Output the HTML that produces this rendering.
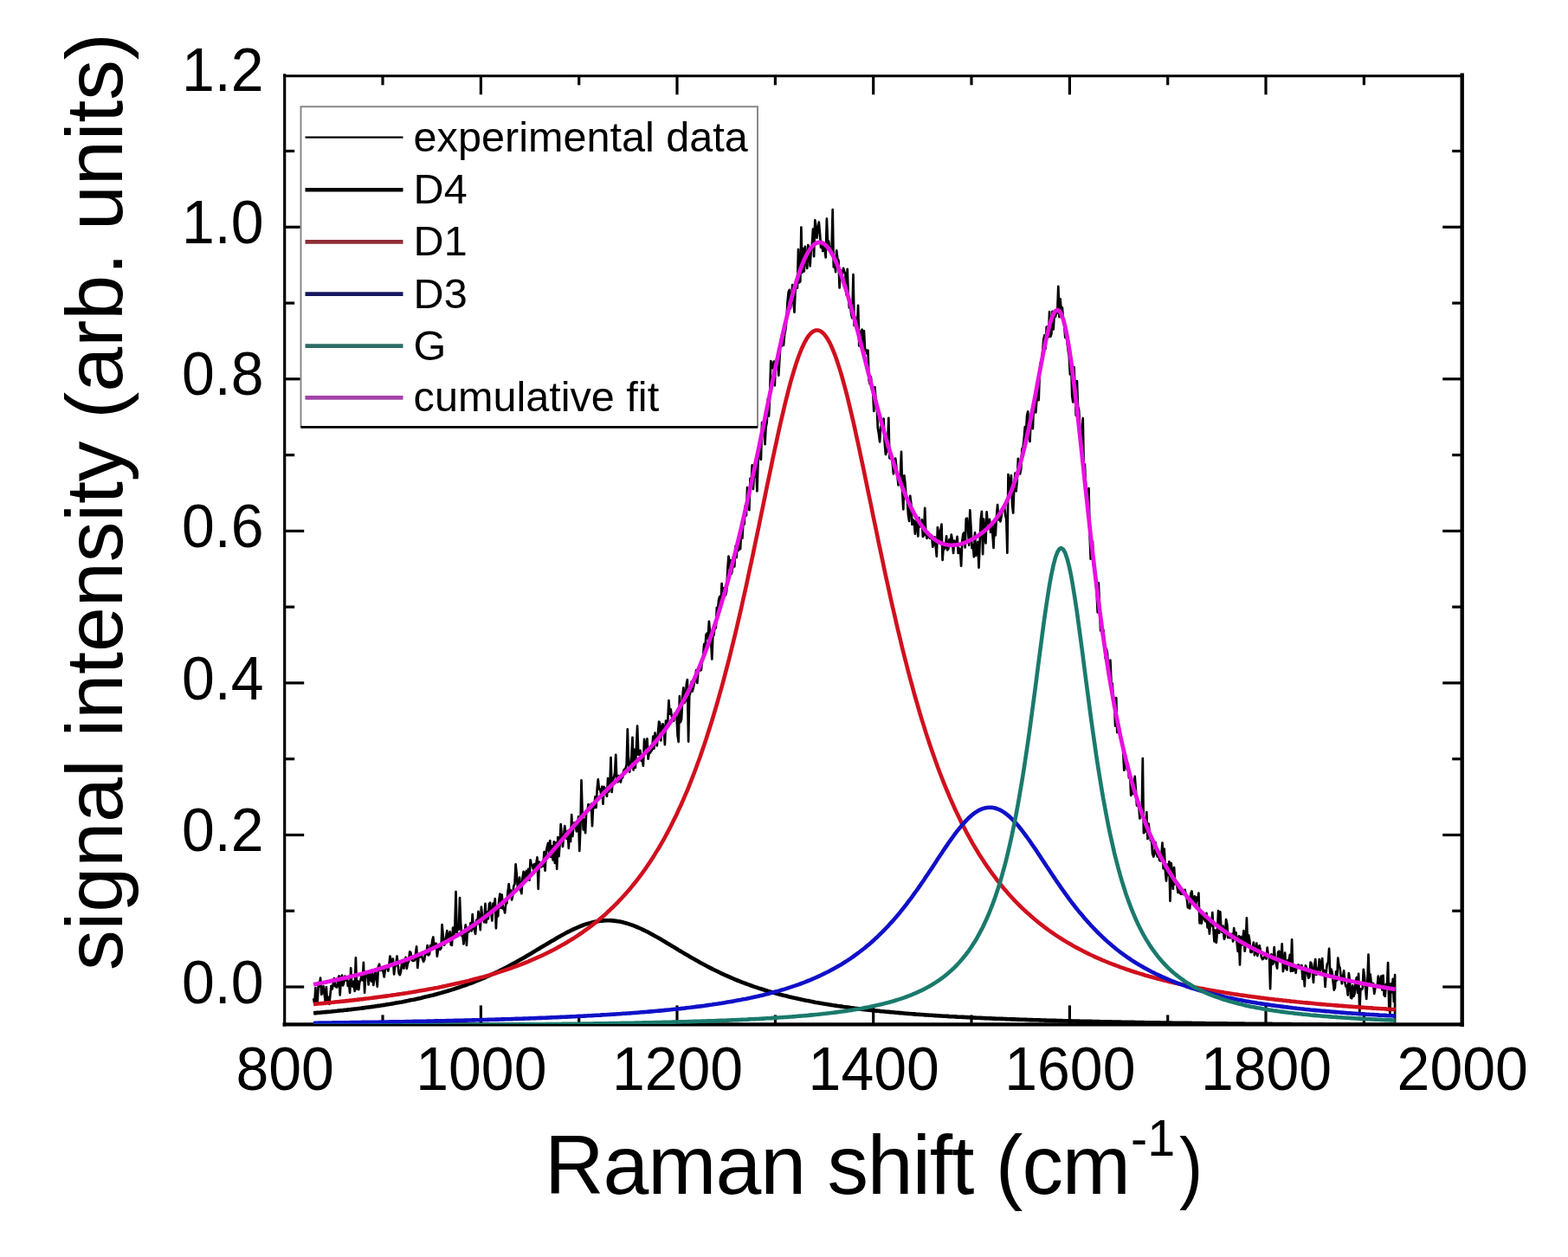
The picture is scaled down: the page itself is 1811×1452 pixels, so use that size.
<!DOCTYPE html>
<html><head><meta charset="utf-8"><title>Raman spectrum fit</title>
<style>html,body{margin:0;padding:0;background:#fff;}svg{display:block;}text{font-family:"Liberation Sans",Arial,sans-serif;fill:#000;}</style>
</head><body>
<svg width="1811" height="1452" viewBox="0 0 1811 1452">
<rect x="0" y="0" width="1811" height="1452" fill="#fff"/>
<defs><clipPath id="pc"><rect x="328.7" y="85.8" width="1360.0" height="1097.2"/></clipPath></defs>
<g stroke="#000" fill="none" stroke-linecap="square">
<line x1="328.7" y1="87.8" x2="1688.7" y2="87.8" stroke-width="3"/>
<line x1="328.7" y1="1183.4" x2="1688.7" y2="1183.4" stroke-width="4.4"/>
<line x1="328.7" y1="86.8" x2="328.7" y2="1183.9" stroke-width="3.2"/>
<line x1="1688.7" y1="86.8" x2="1688.7" y2="1183.9" stroke-width="4.4"/>
</g>
<g stroke="#000" stroke-width="3.2" fill="none">
<line x1="442.0" y1="1183.9" x2="442.0" y2="1172.4"/>
<line x1="442.0" y1="86.8" x2="442.0" y2="98.3"/>
<line x1="555.4" y1="1183.9" x2="555.4" y2="1161.4"/>
<line x1="555.4" y1="86.8" x2="555.4" y2="109.3"/>
<line x1="668.7" y1="1183.9" x2="668.7" y2="1172.4"/>
<line x1="668.7" y1="86.8" x2="668.7" y2="98.3"/>
<line x1="782.0" y1="1183.9" x2="782.0" y2="1161.4"/>
<line x1="782.0" y1="86.8" x2="782.0" y2="109.3"/>
<line x1="895.4" y1="1183.9" x2="895.4" y2="1172.4"/>
<line x1="895.4" y1="86.8" x2="895.4" y2="98.3"/>
<line x1="1008.7" y1="1183.9" x2="1008.7" y2="1161.4"/>
<line x1="1008.7" y1="86.8" x2="1008.7" y2="109.3"/>
<line x1="1122.0" y1="1183.9" x2="1122.0" y2="1172.4"/>
<line x1="1122.0" y1="86.8" x2="1122.0" y2="98.3"/>
<line x1="1235.4" y1="1183.9" x2="1235.4" y2="1161.4"/>
<line x1="1235.4" y1="86.8" x2="1235.4" y2="109.3"/>
<line x1="1348.7" y1="1183.9" x2="1348.7" y2="1172.4"/>
<line x1="1348.7" y1="86.8" x2="1348.7" y2="98.3"/>
<line x1="1462.0" y1="1183.9" x2="1462.0" y2="1161.4"/>
<line x1="1462.0" y1="86.8" x2="1462.0" y2="109.3"/>
<line x1="1575.4" y1="1183.9" x2="1575.4" y2="1172.4"/>
<line x1="1575.4" y1="86.8" x2="1575.4" y2="98.3"/>
<line x1="328.7" y1="1140.0" x2="351.2" y2="1140.0"/>
<line x1="1688.7" y1="1140.0" x2="1666.2" y2="1140.0"/>
<line x1="328.7" y1="1052.2" x2="340.2" y2="1052.2"/>
<line x1="1688.7" y1="1052.2" x2="1677.2" y2="1052.2"/>
<line x1="328.7" y1="964.5" x2="351.2" y2="964.5"/>
<line x1="1688.7" y1="964.5" x2="1666.2" y2="964.5"/>
<line x1="328.7" y1="876.7" x2="340.2" y2="876.7"/>
<line x1="1688.7" y1="876.7" x2="1677.2" y2="876.7"/>
<line x1="328.7" y1="788.9" x2="351.2" y2="788.9"/>
<line x1="1688.7" y1="788.9" x2="1666.2" y2="788.9"/>
<line x1="328.7" y1="701.1" x2="340.2" y2="701.1"/>
<line x1="1688.7" y1="701.1" x2="1677.2" y2="701.1"/>
<line x1="328.7" y1="613.4" x2="351.2" y2="613.4"/>
<line x1="1688.7" y1="613.4" x2="1666.2" y2="613.4"/>
<line x1="328.7" y1="525.6" x2="340.2" y2="525.6"/>
<line x1="1688.7" y1="525.6" x2="1677.2" y2="525.6"/>
<line x1="328.7" y1="437.8" x2="351.2" y2="437.8"/>
<line x1="1688.7" y1="437.8" x2="1666.2" y2="437.8"/>
<line x1="328.7" y1="350.1" x2="340.2" y2="350.1"/>
<line x1="1688.7" y1="350.1" x2="1677.2" y2="350.1"/>
<line x1="328.7" y1="262.3" x2="351.2" y2="262.3"/>
<line x1="1688.7" y1="262.3" x2="1666.2" y2="262.3"/>
<line x1="328.7" y1="174.5" x2="340.2" y2="174.5"/>
<line x1="1688.7" y1="174.5" x2="1677.2" y2="174.5"/>
</g>
<g clip-path="url(#pc)" fill="none" stroke-linejoin="round" stroke-linecap="butt">
<path d="M362.1,1153.3 L363.3,1159.5 L364.4,1141.2 L365.5,1157.4 L366.7,1158.0 L367.8,1135.2 L368.9,1139.3 L370.1,1129.6 L371.2,1148.6 L372.3,1147.1 L373.5,1139.1 L374.6,1147.5 L375.7,1156.7 L376.9,1140.1 L378.0,1158.7 L379.1,1151.8 L380.3,1159.9 L381.4,1149.7 L382.5,1138.8 L383.7,1142.5 L384.8,1137.1 L385.9,1130.1 L387.1,1139.0 L388.2,1140.1 L389.3,1140.4 L390.5,1130.3 L391.6,1127.5 L392.7,1149.4 L393.9,1129.8 L395.0,1126.6 L396.1,1138.3 L397.3,1134.9 L398.4,1127.7 L399.5,1132.3 L400.7,1128.9 L401.8,1138.8 L402.9,1133.8 L404.1,1146.8 L405.2,1118.4 L406.3,1138.4 L407.5,1139.8 L408.6,1133.7 L409.7,1144.8 L410.9,1106.3 L412.0,1142.5 L413.1,1133.3 L414.3,1143.2 L415.4,1133.9 L416.5,1132.3 L417.7,1125.8 L418.8,1132.3 L419.9,1111.9 L421.1,1146.7 L422.2,1125.7 L423.3,1126.7 L424.5,1124.6 L425.6,1137.4 L426.7,1122.9 L427.9,1129.4 L429.0,1133.6 L430.1,1124.2 L431.3,1138.0 L432.4,1128.4 L433.5,1123.0 L434.7,1130.9 L435.8,1139.6 L436.9,1117.0 L438.1,1113.7 L439.2,1121.1 L440.3,1119.2 L441.5,1119.7 L442.6,1122.6 L443.7,1128.5 L444.9,1119.7 L446.0,1117.0 L447.1,1115.6 L448.3,1121.6 L449.4,1114.8 L450.5,1104.5 L451.7,1109.6 L452.8,1112.8 L453.9,1107.5 L455.1,1125.5 L456.2,1116.0 L457.3,1115.4 L458.5,1104.6 L459.6,1114.0 L460.7,1124.4 L461.9,1126.2 L463.0,1122.4 L464.1,1111.6 L465.3,1117.5 L466.4,1118.5 L467.5,1109.3 L468.7,1105.9 L469.8,1118.8 L470.9,1113.0 L472.1,1110.5 L473.2,1099.4 L474.3,1099.9 L475.5,1108.7 L476.6,1109.6 L477.7,1109.9 L478.9,1109.3 L480.0,1102.1 L481.1,1093.4 L482.3,1118.0 L483.4,1106.2 L484.5,1104.8 L485.7,1105.4 L486.8,1103.5 L487.9,1107.3 L489.1,1110.9 L490.2,1108.6 L491.3,1099.1 L492.5,1102.3 L493.6,1092.2 L494.7,1103.3 L495.9,1102.5 L497.0,1092.3 L498.1,1096.7 L499.3,1086.2 L500.4,1082.5 L501.5,1095.0 L502.7,1090.1 L503.8,1089.8 L504.9,1104.7 L506.1,1095.6 L507.2,1091.7 L508.3,1097.0 L509.5,1095.3 L510.6,1068.2 L511.7,1080.7 L512.9,1091.7 L514.0,1090.0 L515.1,1082.8 L516.3,1075.1 L517.4,1085.2 L518.5,1084.0 L519.7,1076.3 L520.8,1091.3 L521.9,1091.9 L523.1,1071.5 L524.2,1081.9 L525.3,1073.5 L526.5,1030.0 L527.6,1077.1 L528.7,1072.1 L529.9,1073.6 L531.0,1037.0 L532.1,1065.5 L533.3,1080.8 L534.4,1080.9 L535.5,1090.5 L536.7,1076.6 L537.8,1068.3 L538.9,1091.9 L540.1,1071.7 L541.2,1076.6 L542.3,1074.4 L543.5,1066.3 L544.6,1075.3 L545.7,1056.1 L546.9,1072.7 L548.0,1074.2 L549.1,1079.0 L550.3,1062.9 L551.4,1067.5 L552.5,1052.9 L553.7,1062.5 L554.8,1074.2 L555.9,1047.5 L557.1,1059.6 L558.2,1061.4 L559.3,1065.3 L560.5,1043.8 L561.6,1065.6 L562.7,1053.6 L563.9,1061.4 L565.0,1044.2 L566.1,1042.8 L567.3,1054.4 L568.4,1063.5 L569.5,1043.7 L570.7,1046.3 L571.8,1038.1 L572.9,1072.3 L574.1,1047.6 L575.2,1058.3 L576.3,1040.2 L577.5,1032.5 L578.6,1048.9 L579.7,1033.7 L580.9,1049.7 L582.0,1049.1 L583.1,1054.5 L584.3,1043.2 L585.4,1043.3 L586.5,1030.4 L587.7,1021.2 L588.8,1033.6 L589.9,1028.3 L591.1,1039.4 L592.2,1034.3 L593.3,1023.7 L594.5,1020.9 L595.6,998.3 L596.7,1009.2 L597.9,1024.9 L599.0,1027.1 L600.1,1013.7 L601.3,1027.8 L602.4,1032.2 L603.5,1014.2 L604.7,1006.8 L605.8,1014.8 L606.9,1008.9 L608.1,1005.9 L609.2,1014.9 L610.3,1003.8 L611.5,1016.7 L612.6,993.3 L613.7,998.5 L614.9,999.7 L616.0,1004.0 L617.1,998.0 L618.3,1003.8 L619.4,997.4 L620.5,990.3 L621.7,1027.0 L622.8,995.5 L623.9,1001.3 L625.1,1001.5 L626.2,998.6 L627.3,1000.7 L628.5,984.2 L629.6,1005.6 L630.7,984.2 L631.9,978.3 L633.0,973.8 L634.1,985.9 L635.3,971.1 L636.4,990.0 L637.5,977.4 L638.7,993.5 L639.8,972.3 L640.9,997.0 L642.1,973.4 L643.2,1003.8 L644.3,967.1 L645.5,989.2 L646.6,974.8 L647.7,952.1 L648.9,967.6 L650.0,978.0 L651.1,964.9 L652.3,954.0 L653.4,966.0 L654.5,968.8 L655.7,959.8 L656.8,979.8 L657.9,958.8 L659.1,972.0 L660.2,941.1 L661.3,966.0 L662.5,954.5 L663.6,950.2 L664.7,952.3 L665.9,960.3 L667.0,958.4 L668.1,943.3 L669.3,982.9 L670.4,955.7 L671.5,901.3 L672.7,941.7 L673.8,958.5 L674.9,946.6 L676.1,962.2 L677.2,936.5 L678.3,937.8 L679.5,929.1 L680.6,930.7 L681.7,935.7 L682.9,928.7 L684.0,954.2 L685.1,930.4 L686.3,933.2 L687.4,920.3 L688.5,932.8 L689.7,911.1 L690.8,900.4 L691.9,911.4 L693.1,911.8 L694.2,917.3 L695.3,908.7 L696.5,928.6 L697.6,908.9 L698.7,910.6 L699.9,916.0 L701.0,919.8 L702.1,899.1 L703.3,914.4 L704.4,908.5 L705.5,875.0 L706.7,915.0 L707.8,898.5 L708.9,899.0 L710.1,892.7 L711.2,871.9 L712.3,901.3 L713.5,903.4 L714.6,896.2 L715.7,900.0 L716.9,903.5 L718.0,897.1 L719.1,898.3 L720.3,890.2 L721.4,888.4 L722.5,888.0 L723.7,882.9 L724.8,842.3 L725.9,880.2 L727.1,891.7 L728.2,883.8 L729.3,873.7 L730.5,851.8 L731.6,889.4 L732.7,865.8 L733.9,886.6 L735.0,863.1 L736.1,838.6 L737.3,871.9 L738.4,871.8 L739.5,866.9 L740.7,878.8 L741.8,876.7 L742.9,884.6 L744.1,853.8 L745.2,861.0 L746.3,864.6 L747.5,853.3 L748.6,876.7 L749.7,869.6 L750.9,869.7 L752.0,867.6 L753.1,866.3 L754.3,850.5 L755.4,864.7 L756.5,846.6 L757.7,854.9 L758.8,861.5 L759.9,847.2 L761.1,833.7 L762.2,835.4 L763.3,855.5 L764.5,840.3 L765.6,836.3 L766.7,842.2 L767.9,860.1 L769.0,832.5 L770.1,841.4 L771.3,832.3 L772.4,809.2 L773.5,824.7 L774.7,819.3 L775.8,827.6 L776.9,829.0 L778.1,832.8 L779.2,824.2 L780.3,824.9 L781.5,826.9 L782.6,849.3 L783.7,856.8 L784.9,804.2 L786.0,834.1 L787.1,830.6 L788.3,804.7 L789.4,794.4 L790.5,811.9 L791.7,809.2 L792.8,790.5 L793.9,785.1 L795.1,856.6 L796.2,803.6 L797.3,800.1 L798.5,787.7 L799.6,798.5 L800.7,794.7 L801.9,788.7 L803.0,785.7 L804.1,774.0 L805.3,788.9 L806.4,775.8 L807.5,773.5 L808.7,774.4 L809.8,774.0 L810.9,764.0 L812.1,758.1 L813.2,744.1 L814.3,750.5 L815.5,733.2 L816.6,731.6 L817.7,737.6 L818.9,717.9 L820.0,730.1 L821.1,738.6 L822.3,761.4 L823.4,733.0 L824.5,733.5 L825.7,721.4 L826.8,725.5 L827.9,701.8 L829.1,703.4 L830.2,692.1 L831.3,689.1 L832.5,698.6 L833.6,674.0 L834.7,693.8 L835.9,679.3 L837.0,686.3 L838.1,687.3 L839.3,682.2 L840.4,656.9 L841.5,642.6 L842.7,656.0 L843.8,647.0 L844.9,662.7 L846.1,656.5 L847.2,642.4 L848.3,654.4 L849.5,630.9 L850.6,643.9 L851.7,629.4 L852.9,635.8 L854.0,627.2 L855.1,634.1 L856.3,608.0 L857.4,621.7 L858.5,601.4 L859.7,605.5 L860.8,584.0 L861.9,595.5 L863.1,563.0 L864.2,581.5 L865.3,589.1 L866.5,552.9 L867.6,559.2 L868.7,537.4 L869.9,565.0 L871.0,545.9 L872.1,550.7 L873.3,539.5 L874.4,567.3 L875.5,534.7 L876.7,519.1 L877.8,524.6 L878.9,530.8 L880.1,488.0 L881.2,496.0 L882.3,497.4 L883.5,513.2 L884.6,493.5 L885.7,488.3 L886.9,460.6 L888.0,480.6 L889.1,458.2 L890.3,417.1 L891.4,423.6 L892.5,425.1 L893.7,417.6 L894.8,445.3 L895.9,416.7 L897.1,419.0 L898.2,411.2 L899.3,433.7 L900.5,412.3 L901.6,392.6 L902.7,399.9 L903.9,391.9 L905.0,399.0 L906.1,386.9 L907.3,380.5 L908.4,369.9 L909.5,349.3 L910.7,337.4 L911.8,334.8 L912.9,356.2 L914.1,348.8 L915.2,329.0 L916.3,347.0 L917.5,360.6 L918.6,335.4 L919.7,326.7 L920.9,332.6 L922.0,288.2 L923.1,326.4 L924.3,325.2 L925.4,262.6 L926.5,314.9 L927.7,287.2 L928.8,313.5 L929.9,284.9 L931.1,298.5 L932.2,309.9 L933.3,283.0 L934.5,287.0 L935.6,307.3 L936.7,290.0 L937.9,282.0 L939.0,264.5 L940.1,296.2 L941.3,254.3 L942.4,261.0 L943.5,274.8 L944.7,264.8 L945.8,256.6 L946.9,268.5 L948.1,285.8 L949.2,279.2 L950.3,290.0 L951.5,282.0 L952.6,288.5 L953.7,297.3 L954.9,252.7 L956.0,281.1 L957.1,278.6 L958.3,288.1 L959.4,291.8 L960.5,291.9 L961.7,242.2 L962.8,308.5 L963.9,301.4 L965.1,314.2 L966.2,289.4 L967.3,298.7 L968.5,300.8 L969.6,332.4 L970.7,312.1 L971.9,319.4 L973.0,316.3 L974.1,309.8 L975.3,314.2 L976.4,316.0 L977.5,340.4 L978.7,310.9 L979.8,342.5 L980.9,355.3 L982.1,352.9 L983.2,362.9 L984.3,367.3 L985.5,317.2 L986.6,375.9 L987.7,366.7 L988.9,374.2 L990.0,379.6 L991.1,352.9 L992.3,399.5 L993.4,388.7 L994.5,382.9 L995.7,380.7 L996.8,402.2 L997.9,382.0 L999.1,404.1 L1000.2,404.0 L1001.3,408.5 L1002.5,404.7 L1003.6,439.2 L1004.7,443.6 L1005.9,435.3 L1007.0,450.0 L1008.1,450.8 L1009.3,475.0 L1010.4,447.1 L1011.5,461.1 L1012.7,467.3 L1013.8,494.2 L1014.9,500.5 L1016.1,510.4 L1017.2,492.5 L1018.3,493.6 L1019.5,492.9 L1020.6,483.7 L1021.7,511.2 L1022.9,525.0 L1024.0,521.7 L1025.1,515.9 L1026.3,482.9 L1027.4,529.2 L1028.5,529.6 L1029.7,526.8 L1030.8,534.8 L1031.9,547.3 L1033.1,535.6 L1034.2,529.5 L1035.3,539.9 L1036.5,550.2 L1037.6,560.3 L1038.7,554.9 L1039.9,551.5 L1041.0,521.8 L1042.1,566.5 L1043.3,588.3 L1044.4,549.3 L1045.5,559.0 L1046.7,575.9 L1047.8,575.7 L1048.9,594.0 L1050.1,602.0 L1051.2,572.9 L1052.3,581.5 L1053.5,606.0 L1054.6,600.4 L1055.7,601.5 L1056.9,616.7 L1058.0,604.0 L1059.1,599.6 L1060.3,619.5 L1061.4,598.2 L1062.5,608.5 L1063.7,606.2 L1064.8,600.4 L1065.9,619.8 L1067.1,618.3 L1068.2,586.8 L1069.3,615.6 L1070.5,621.8 L1071.6,614.8 L1072.7,619.1 L1073.9,621.8 L1075.0,619.0 L1076.1,618.7 L1077.3,631.7 L1078.4,627.8 L1079.5,620.3 L1080.7,630.7 L1081.8,642.6 L1082.9,609.2 L1084.1,616.4 L1085.2,625.7 L1086.3,613.3 L1087.5,605.6 L1088.6,646.9 L1089.7,630.3 L1090.9,634.1 L1092.0,631.6 L1093.1,619.4 L1094.3,635.3 L1095.4,633.7 L1096.5,623.0 L1097.7,629.3 L1098.8,617.5 L1099.9,624.5 L1101.1,639.0 L1102.2,624.5 L1103.3,628.6 L1104.5,628.8 L1105.6,619.9 L1106.7,639.0 L1107.9,633.5 L1109.0,635.4 L1110.1,653.6 L1111.3,625.1 L1112.4,616.9 L1113.5,615.4 L1114.7,632.3 L1115.8,599.2 L1116.9,598.7 L1118.1,613.0 L1119.2,629.6 L1120.3,589.4 L1121.5,610.0 L1122.6,633.1 L1123.7,629.4 L1124.9,643.1 L1126.0,615.3 L1127.1,641.8 L1128.3,630.0 L1129.4,626.0 L1130.5,655.6 L1131.7,625.2 L1132.8,599.6 L1133.9,590.9 L1135.1,640.2 L1136.2,599.5 L1137.3,614.6 L1138.5,627.4 L1139.6,591.3 L1140.7,605.1 L1141.9,604.4 L1143.0,599.8 L1144.1,614.9 L1145.3,604.9 L1146.4,617.0 L1147.5,633.0 L1148.7,603.8 L1149.8,618.3 L1150.9,598.0 L1152.1,583.1 L1153.2,600.5 L1154.3,593.5 L1155.5,602.3 L1156.6,595.9 L1157.7,587.9 L1158.9,585.6 L1160.0,584.7 L1161.1,594.5 L1162.3,600.0 L1163.4,638.6 L1164.5,548.1 L1165.7,557.7 L1166.8,569.8 L1167.9,549.1 L1169.1,583.1 L1170.2,592.5 L1171.3,562.2 L1172.5,546.5 L1173.6,567.3 L1174.7,556.2 L1175.9,529.8 L1177.0,546.2 L1178.1,547.4 L1179.3,541.5 L1180.4,518.5 L1181.5,517.0 L1182.7,507.0 L1183.8,493.0 L1184.9,503.0 L1186.1,480.1 L1187.2,475.3 L1188.3,499.8 L1189.5,510.0 L1190.6,485.2 L1191.7,479.3 L1192.9,495.2 L1194.0,465.9 L1195.1,462.5 L1196.3,476.3 L1197.4,461.9 L1198.5,447.3 L1199.7,462.1 L1200.8,430.2 L1201.9,418.7 L1203.1,416.7 L1204.2,406.0 L1205.3,392.0 L1206.5,387.2 L1207.6,402.7 L1208.7,377.9 L1209.9,377.2 L1211.0,389.1 L1212.1,360.2 L1213.3,388.7 L1214.4,385.7 L1215.5,359.9 L1216.7,380.4 L1217.8,361.6 L1218.9,365.9 L1220.1,361.7 L1221.2,361.5 L1222.3,330.8 L1223.5,366.2 L1224.6,345.3 L1225.7,358.6 L1226.9,355.2 L1228.0,369.5 L1229.1,375.0 L1230.3,389.8 L1231.4,385.3 L1232.5,394.9 L1233.7,405.0 L1234.8,411.6 L1235.9,432.5 L1237.1,414.3 L1238.2,457.0 L1239.3,464.5 L1240.5,424.1 L1241.6,447.2 L1242.7,479.8 L1243.9,440.0 L1245.0,469.3 L1246.1,473.7 L1247.3,492.0 L1248.4,506.4 L1249.5,515.3 L1250.7,483.0 L1251.8,540.9 L1252.9,536.2 L1254.1,562.0 L1255.2,568.9 L1256.3,592.7 L1257.5,564.1 L1258.6,617.6 L1259.7,645.7 L1260.9,632.5 L1262.0,625.5 L1263.1,653.9 L1264.3,659.1 L1265.4,661.8 L1266.5,681.5 L1267.7,707.3 L1268.8,673.4 L1269.9,696.2 L1271.1,728.5 L1272.2,718.5 L1273.3,734.8 L1274.5,727.8 L1275.6,745.1 L1276.7,760.5 L1277.9,749.6 L1279.0,754.6 L1280.1,779.5 L1281.3,768.4 L1282.4,762.7 L1283.5,787.8 L1284.7,789.8 L1285.8,805.1 L1286.9,807.0 L1288.1,838.7 L1289.2,806.2 L1290.3,846.0 L1291.5,835.5 L1292.6,839.6 L1293.7,851.1 L1294.9,856.2 L1296.0,859.7 L1297.1,866.3 L1298.3,889.6 L1299.4,877.8 L1300.5,873.6 L1301.7,888.8 L1302.8,882.3 L1303.9,898.4 L1305.1,893.5 L1306.2,918.9 L1307.3,901.0 L1308.5,916.9 L1309.6,909.6 L1310.7,896.8 L1311.9,912.8 L1313.0,930.4 L1314.1,931.2 L1315.3,931.2 L1316.4,945.4 L1317.5,930.8 L1318.7,942.0 L1319.8,876.0 L1320.9,962.2 L1322.1,961.1 L1323.2,959.6 L1324.3,938.1 L1325.5,969.0 L1326.6,951.5 L1327.7,961.0 L1328.9,970.9 L1330.0,969.2 L1331.1,986.3 L1332.3,989.5 L1333.4,986.0 L1334.5,973.0 L1335.7,984.5 L1336.8,989.5 L1337.9,986.1 L1339.1,993.4 L1340.2,994.4 L1341.3,989.4 L1342.5,973.6 L1343.6,1003.1 L1344.7,980.5 L1345.9,1006.1 L1347.0,1017.5 L1348.1,998.5 L1349.3,1010.9 L1350.4,995.4 L1351.5,1040.8 L1352.7,997.0 L1353.8,1007.4 L1354.9,1026.6 L1356.1,1002.0 L1357.2,1021.1 L1358.3,1018.7 L1359.5,1023.8 L1360.6,1031.1 L1361.7,1023.7 L1362.9,1031.6 L1364.0,1032.7 L1365.1,1028.4 L1366.3,1032.9 L1367.4,1031.6 L1368.5,1027.8 L1369.7,1033.3 L1370.8,1038.1 L1371.9,1048.3 L1373.1,1048.6 L1374.2,1049.3 L1375.3,1032.5 L1376.5,1029.5 L1377.6,1039.7 L1378.7,1042.4 L1379.9,1035.4 L1381.0,1046.2 L1382.1,1036.7 L1383.3,1040.0 L1384.4,1031.7 L1385.5,1066.3 L1386.7,1052.9 L1387.8,1066.7 L1388.9,1057.0 L1390.1,1059.9 L1391.2,1062.0 L1392.3,1064.3 L1393.5,1054.9 L1394.6,1071.5 L1395.7,1063.7 L1396.9,1078.6 L1398.0,1066.8 L1399.1,1069.5 L1400.3,1054.1 L1401.4,1073.5 L1402.5,1087.5 L1403.7,1074.6 L1404.8,1088.8 L1405.9,1076.6 L1407.1,1052.0 L1408.2,1077.7 L1409.3,1053.3 L1410.5,1074.3 L1411.6,1076.9 L1412.7,1069.5 L1413.9,1084.7 L1415.0,1081.8 L1416.1,1062.0 L1417.3,1067.9 L1418.4,1083.2 L1419.5,1081.4 L1420.7,1083.3 L1421.8,1081.6 L1422.9,1079.0 L1424.1,1087.4 L1425.2,1072.2 L1426.3,1085.1 L1427.5,1077.2 L1428.6,1089.1 L1429.7,1098.9 L1430.9,1081.4 L1432.0,1114.5 L1433.1,1082.1 L1434.3,1092.0 L1435.4,1084.1 L1436.5,1075.0 L1437.7,1098.7 L1438.8,1091.0 L1439.9,1060.4 L1441.1,1091.9 L1442.2,1080.3 L1443.3,1086.6 L1444.5,1099.8 L1445.6,1100.0 L1446.7,1094.4 L1447.9,1088.6 L1449.0,1103.3 L1450.1,1100.4 L1451.3,1089.6 L1452.4,1104.1 L1453.5,1094.4 L1454.7,1092.2 L1455.8,1098.0 L1456.9,1105.5 L1458.1,1108.1 L1459.2,1107.3 L1460.3,1105.4 L1461.5,1104.1 L1462.6,1107.5 L1463.7,1094.7 L1464.9,1104.9 L1466.0,1104.1 L1467.1,1142.2 L1468.3,1102.3 L1469.4,1114.0 L1470.5,1113.1 L1471.7,1094.1 L1472.8,1109.6 L1473.9,1112.8 L1475.1,1118.6 L1476.2,1099.8 L1477.3,1098.7 L1478.5,1104.9 L1479.6,1110.4 L1480.7,1090.3 L1481.9,1122.1 L1483.0,1116.0 L1484.1,1100.7 L1485.3,1118.6 L1486.4,1120.3 L1487.5,1109.1 L1488.7,1109.8 L1489.8,1102.9 L1490.9,1121.8 L1492.1,1085.4 L1493.2,1121.6 L1494.3,1120.1 L1495.5,1115.5 L1496.6,1123.9 L1497.7,1115.3 L1498.9,1114.6 L1500.0,1114.7 L1501.1,1117.5 L1502.3,1116.0 L1503.4,1115.1 L1504.5,1130.8 L1505.7,1121.2 L1506.8,1139.1 L1507.9,1115.3 L1509.1,1118.4 L1510.2,1125.0 L1511.3,1129.7 L1512.5,1128.1 L1513.6,1111.6 L1514.7,1112.9 L1515.9,1123.3 L1517.0,1134.9 L1518.1,1115.1 L1519.3,1108.2 L1520.4,1125.8 L1521.5,1119.0 L1522.7,1120.1 L1523.8,1108.2 L1524.9,1121.3 L1526.1,1113.7 L1527.2,1107.1 L1528.3,1125.0 L1529.5,1121.0 L1530.6,1140.0 L1531.7,1122.5 L1532.9,1113.4 L1534.0,1111.6 L1535.1,1095.9 L1536.3,1128.1 L1537.4,1119.5 L1538.5,1122.7 L1539.7,1134.6 L1540.8,1143.6 L1541.9,1140.9 L1543.1,1122.4 L1544.2,1132.3 L1545.3,1106.6 L1546.5,1115.5 L1547.6,1118.3 L1548.7,1127.9 L1549.9,1136.2 L1551.0,1129.4 L1552.1,1121.4 L1553.3,1133.9 L1554.4,1139.5 L1555.5,1138.6 L1556.7,1149.4 L1557.8,1124.2 L1558.9,1131.4 L1560.1,1152.5 L1561.2,1153.2 L1562.3,1138.4 L1563.5,1150.8 L1564.6,1147.4 L1565.7,1134.9 L1566.9,1129.0 L1568.0,1146.7 L1569.1,1124.8 L1570.3,1170.2 L1571.4,1142.3 L1572.5,1143.0 L1573.7,1141.7 L1574.8,1119.8 L1575.9,1127.7 L1577.1,1140.7 L1578.2,1153.8 L1579.3,1134.9 L1580.5,1102.7 L1581.6,1134.0 L1582.7,1125.6 L1583.9,1137.2 L1585.0,1138.5 L1586.1,1136.0 L1587.3,1147.8 L1588.4,1141.0 L1589.5,1138.4 L1590.7,1139.1 L1591.8,1127.7 L1592.9,1133.5 L1594.1,1139.5 L1595.2,1127.7 L1596.3,1143.4 L1597.5,1126.8 L1598.6,1149.5 L1599.7,1150.7 L1600.9,1136.9 L1602.0,1140.4 L1603.1,1112.1 L1604.3,1163.4 L1605.4,1170.3 L1606.5,1136.1 L1607.7,1146.1 L1608.8,1130.9 L1609.9,1157.2 L1611.1,1126.2 L1611.1,1181.3" stroke="#000" stroke-width="2.70"/>
<path d="M362.1,1170.3 L364.4,1170.1 L366.7,1169.9 L368.9,1169.7 L371.2,1169.5 L373.5,1169.3 L375.7,1169.1 L378.0,1168.9 L380.3,1168.7 L382.5,1168.5 L384.8,1168.2 L387.1,1168.0 L389.3,1167.8 L391.6,1167.5 L393.9,1167.3 L396.1,1167.1 L398.4,1166.8 L400.7,1166.6 L402.9,1166.3 L405.2,1166.1 L407.5,1165.8 L409.7,1165.5 L412.0,1165.3 L414.3,1165.0 L416.5,1164.7 L418.8,1164.4 L421.1,1164.1 L423.3,1163.8 L425.6,1163.5 L427.9,1163.2 L430.1,1162.9 L432.4,1162.6 L434.7,1162.2 L436.9,1161.9 L439.2,1161.6 L441.5,1161.2 L443.7,1160.9 L446.0,1160.5 L448.3,1160.1 L450.5,1159.8 L452.8,1159.4 L455.1,1159.0 L457.3,1158.6 L459.6,1158.2 L461.9,1157.8 L464.1,1157.4 L466.4,1156.9 L468.7,1156.5 L470.9,1156.1 L473.2,1155.6 L475.5,1155.1 L477.7,1154.7 L480.0,1154.2 L482.3,1153.7 L484.5,1153.2 L486.8,1152.7 L489.1,1152.1 L491.3,1151.6 L493.6,1151.1 L495.9,1150.5 L498.1,1149.9 L500.4,1149.4 L502.7,1148.8 L504.9,1148.2 L507.2,1147.6 L509.5,1146.9 L511.7,1146.3 L514.0,1145.6 L516.3,1145.0 L518.5,1144.3 L520.8,1143.6 L523.1,1142.9 L525.3,1142.2 L527.6,1141.4 L529.9,1140.7 L532.1,1139.9 L534.4,1139.1 L536.7,1138.3 L538.9,1137.5 L541.2,1136.7 L543.5,1135.9 L545.7,1135.0 L548.0,1134.1 L550.3,1133.2 L552.5,1132.3 L554.8,1131.4 L557.1,1130.4 L559.3,1129.5 L561.6,1128.5 L563.9,1127.5 L566.1,1126.5 L568.4,1125.4 L570.7,1124.4 L572.9,1123.3 L575.2,1122.2 L577.5,1121.1 L579.7,1120.0 L582.0,1118.8 L584.3,1117.7 L586.5,1116.5 L588.8,1115.3 L591.1,1114.1 L593.3,1112.8 L595.6,1111.6 L597.9,1110.3 L600.1,1109.1 L602.4,1107.8 L604.7,1106.5 L606.9,1105.2 L609.2,1103.8 L611.5,1102.5 L613.7,1101.2 L616.0,1099.8 L618.3,1098.4 L620.5,1097.1 L622.8,1095.7 L625.1,1094.3 L627.3,1093.0 L629.6,1091.6 L631.9,1090.2 L634.1,1088.9 L636.4,1087.5 L638.7,1086.2 L640.9,1084.9 L643.2,1083.5 L645.5,1082.2 L647.7,1081.0 L650.0,1079.7 L652.3,1078.5 L654.5,1077.3 L656.8,1076.1 L659.1,1075.0 L661.3,1073.9 L663.6,1072.8 L665.9,1071.8 L668.1,1070.8 L670.4,1069.9 L672.7,1069.0 L674.9,1068.2 L677.2,1067.4 L679.5,1066.7 L681.7,1066.1 L684.0,1065.5 L686.3,1065.0 L688.5,1064.5 L690.8,1064.2 L693.1,1063.8 L695.3,1063.6 L697.6,1063.4 L699.9,1063.3 L702.1,1063.3 L704.4,1063.3 L706.7,1063.4 L708.9,1063.6 L711.2,1063.9 L713.5,1064.2 L715.7,1064.6 L718.0,1065.1 L720.3,1065.6 L722.5,1066.2 L724.8,1066.9 L727.1,1067.6 L729.3,1068.4 L731.6,1069.2 L733.9,1070.1 L736.1,1071.0 L738.4,1072.0 L740.7,1073.0 L742.9,1074.1 L745.2,1075.2 L747.5,1076.3 L749.7,1077.5 L752.0,1078.7 L754.3,1080.0 L756.5,1081.2 L758.8,1082.5 L761.1,1083.8 L763.3,1085.1 L765.6,1086.5 L767.9,1087.8 L770.1,1089.2 L772.4,1090.5 L774.7,1091.9 L776.9,1093.3 L779.2,1094.6 L781.5,1096.0 L783.7,1097.4 L786.0,1098.7 L788.3,1100.1 L790.5,1101.4 L792.8,1102.8 L795.1,1104.1 L797.3,1105.4 L799.6,1106.7 L801.9,1108.0 L804.1,1109.3 L806.4,1110.6 L808.7,1111.9 L810.9,1113.1 L813.2,1114.3 L815.5,1115.5 L817.7,1116.7 L820.0,1117.9 L822.3,1119.1 L824.5,1120.2 L826.8,1121.3 L829.1,1122.4 L831.3,1123.5 L833.6,1124.6 L835.9,1125.6 L838.1,1126.7 L840.4,1127.7 L842.7,1128.7 L844.9,1129.7 L847.2,1130.6 L849.5,1131.6 L851.7,1132.5 L854.0,1133.4 L856.3,1134.3 L858.5,1135.2 L860.8,1136.0 L863.1,1136.9 L865.3,1137.7 L867.6,1138.5 L869.9,1139.3 L872.1,1140.1 L874.4,1140.8 L876.7,1141.6 L878.9,1142.3 L881.2,1143.0 L883.5,1143.7 L885.7,1144.4 L888.0,1145.1 L890.3,1145.8 L892.5,1146.4 L894.8,1147.1 L897.1,1147.7 L899.3,1148.3 L901.6,1148.9 L903.9,1149.5 L906.1,1150.1 L908.4,1150.6 L910.7,1151.2 L912.9,1151.7 L915.2,1152.3 L917.5,1152.8 L919.7,1153.3 L922.0,1153.8 L924.3,1154.3 L926.5,1154.8 L928.8,1155.2 L931.1,1155.7 L933.3,1156.1 L935.6,1156.6 L937.9,1157.0 L940.1,1157.4 L942.4,1157.9 L944.7,1158.3 L946.9,1158.7 L949.2,1159.1 L951.5,1159.5 L953.7,1159.8 L956.0,1160.2 L958.3,1160.6 L960.5,1160.9 L962.8,1161.3 L965.1,1161.6 L967.3,1162.0 L969.6,1162.3 L971.9,1162.6 L974.1,1163.0 L976.4,1163.3 L978.7,1163.6 L980.9,1163.9 L983.2,1164.2 L985.5,1164.5 L987.7,1164.8 L990.0,1165.0 L992.3,1165.3 L994.5,1165.6 L996.8,1165.9 L999.1,1166.1 L1001.3,1166.4 L1003.6,1166.6 L1005.9,1166.9 L1008.1,1167.1 L1010.4,1167.4 L1012.7,1167.6 L1014.9,1167.8 L1017.2,1168.1 L1019.5,1168.3 L1021.7,1168.5 L1024.0,1168.7 L1026.3,1168.9 L1028.5,1169.1 L1030.8,1169.3 L1033.1,1169.5 L1035.3,1169.7 L1037.6,1169.9 L1039.9,1170.1 L1042.1,1170.3 L1044.4,1170.5 L1046.7,1170.7 L1048.9,1170.9 L1051.2,1171.0 L1053.5,1171.2 L1055.7,1171.4 L1058.0,1171.6 L1060.3,1171.7 L1062.5,1171.9 L1064.8,1172.0 L1067.1,1172.2 L1069.3,1172.4 L1071.6,1172.5 L1073.9,1172.7 L1076.1,1172.8 L1078.4,1173.0 L1080.7,1173.1 L1082.9,1173.2 L1085.2,1173.4 L1087.5,1173.5 L1089.7,1173.7 L1092.0,1173.8 L1094.3,1173.9 L1096.5,1174.1 L1098.8,1174.2 L1101.1,1174.3 L1103.3,1174.4 L1105.6,1174.6 L1107.9,1174.7 L1110.1,1174.8 L1112.4,1174.9 L1114.7,1175.0 L1116.9,1175.1 L1119.2,1175.3 L1121.5,1175.4 L1123.7,1175.5 L1126.0,1175.6 L1128.3,1175.7 L1130.5,1175.8 L1132.8,1175.9 L1135.1,1176.0 L1137.3,1176.1 L1139.6,1176.2 L1141.9,1176.3 L1144.1,1176.4 L1146.4,1176.5 L1148.7,1176.6 L1150.9,1176.7 L1153.2,1176.8 L1155.5,1176.8 L1157.7,1176.9 L1160.0,1177.0 L1162.3,1177.1 L1164.5,1177.2 L1166.8,1177.3 L1169.1,1177.4 L1171.3,1177.4 L1173.6,1177.5 L1175.9,1177.6 L1178.1,1177.7 L1180.4,1177.8 L1182.7,1177.8 L1184.9,1177.9 L1187.2,1178.0 L1189.5,1178.1 L1191.7,1178.1 L1194.0,1178.2 L1196.3,1178.3 L1198.5,1178.3 L1200.8,1178.4 L1203.1,1178.5 L1205.3,1178.5 L1207.6,1178.6 L1209.9,1178.7 L1212.1,1178.7 L1214.4,1178.8 L1216.7,1178.9 L1218.9,1178.9 L1221.2,1179.0 L1223.5,1179.1 L1225.7,1179.1 L1228.0,1179.2 L1230.3,1179.2 L1232.5,1179.3 L1234.8,1179.4 L1237.1,1179.4 L1239.3,1179.5 L1241.6,1179.5 L1243.9,1179.6 L1246.1,1179.6 L1248.4,1179.7 L1250.7,1179.7 L1252.9,1179.8 L1255.2,1179.8 L1257.5,1179.9 L1259.7,1179.9 L1262.0,1180.0 L1264.3,1180.0 L1266.5,1180.1 L1268.8,1180.1 L1271.1,1180.2 L1273.3,1180.2 L1275.6,1180.3 L1277.9,1180.3 L1280.1,1180.4 L1282.4,1180.4 L1284.7,1180.5 L1286.9,1180.5 L1289.2,1180.6 L1291.5,1180.6 L1293.7,1180.6 L1296.0,1180.7 L1298.3,1180.7 L1300.5,1180.8 L1302.8,1180.8 L1305.1,1180.9 L1307.3,1180.9 L1309.6,1180.9 L1311.9,1181.0 L1314.1,1181.0 L1316.4,1181.1 L1318.7,1181.1 L1320.9,1181.1 L1323.2,1181.2 L1325.5,1181.2 L1327.7,1181.2 L1330.0,1181.3 L1332.3,1181.3 L1334.5,1181.3 L1336.8,1181.4 L1339.1,1181.4 L1341.3,1181.5 L1343.6,1181.5 L1345.9,1181.5 L1348.1,1181.6 L1350.4,1181.6 L1352.7,1181.6 L1354.9,1181.7 L1357.2,1181.7 L1359.5,1181.7 L1361.7,1181.8 L1364.0,1181.8 L1366.3,1181.8 L1368.5,1181.8 L1370.8,1181.9 L1373.1,1181.9 L1375.3,1181.9 L1377.6,1182.0 L1379.9,1182.0 L1382.1,1182.0 L1384.4,1182.1 L1386.7,1182.1 L1388.9,1182.1 L1391.2,1182.1 L1393.5,1182.2 L1395.7,1182.2 L1398.0,1182.2 L1400.3,1182.2 L1402.5,1182.3 L1404.8,1182.3 L1407.1,1182.3 L1409.3,1182.3 L1411.6,1182.4 L1413.9,1182.4 L1416.1,1182.4 L1418.4,1182.5 L1420.7,1182.5 L1422.9,1182.5 L1425.2,1182.5 L1427.5,1182.5 L1429.7,1182.6 L1432.0,1182.6 L1434.3,1182.6 L1436.5,1182.6 L1438.8,1182.7 L1441.1,1182.7 L1443.3,1182.7 L1445.6,1182.7 L1447.9,1182.8 L1450.1,1182.8 L1452.4,1182.8 L1454.7,1182.8 L1456.9,1182.8 L1459.2,1182.9 L1461.5,1182.9 L1463.7,1182.9 L1466.0,1182.9 L1468.3,1182.9 L1470.5,1183.0 L1472.8,1183.0 L1475.1,1183.0 L1477.3,1183.0 L1479.6,1183.0 L1481.9,1183.1 L1484.1,1183.1 L1486.4,1183.1 L1488.7,1183.1 L1490.9,1183.1 L1493.2,1183.2 L1495.5,1183.2 L1497.7,1183.2 L1500.0,1183.2 L1502.3,1183.2 L1504.5,1183.3 L1506.8,1183.3 L1509.1,1183.3 L1511.3,1183.3 L1513.6,1183.3 L1515.9,1183.3 L1518.1,1183.4 L1520.4,1183.4 L1522.7,1183.4 L1524.9,1183.4 L1527.2,1183.4 L1529.5,1183.4 L1531.7,1183.5 L1534.0,1183.5 L1536.3,1183.5 L1538.5,1183.5 L1540.8,1183.5 L1543.1,1183.5 L1545.3,1183.6 L1547.6,1183.6 L1549.9,1183.6 L1552.1,1183.6 L1554.4,1183.6 L1556.7,1183.6 L1558.9,1183.6 L1561.2,1183.7 L1563.5,1183.7 L1565.7,1183.7 L1568.0,1183.7 L1570.3,1183.7 L1572.5,1183.7 L1574.8,1183.7 L1577.1,1183.8 L1579.3,1183.8 L1581.6,1183.8 L1583.9,1183.8 L1586.1,1183.8 L1588.4,1183.8 L1590.7,1183.8 L1592.9,1183.9 L1595.2,1183.9 L1597.5,1183.9 L1599.7,1183.9 L1602.0,1183.9 L1604.3,1183.9 L1606.5,1183.9 L1608.8,1183.9 L1611.1,1184.0 L1611.6,1184.0" stroke="#000" stroke-width="4.6"/>
<path d="M362.1,1159.9 L364.4,1159.7 L366.7,1159.5 L368.9,1159.3 L371.2,1159.1 L373.5,1158.9 L375.7,1158.6 L378.0,1158.4 L380.3,1158.2 L382.5,1158.0 L384.8,1157.8 L387.1,1157.5 L389.3,1157.3 L391.6,1157.1 L393.9,1156.8 L396.1,1156.6 L398.4,1156.4 L400.7,1156.1 L402.9,1155.9 L405.2,1155.6 L407.5,1155.4 L409.7,1155.1 L412.0,1154.9 L414.3,1154.6 L416.5,1154.3 L418.8,1154.1 L421.1,1153.8 L423.3,1153.5 L425.6,1153.3 L427.9,1153.0 L430.1,1152.7 L432.4,1152.4 L434.7,1152.1 L436.9,1151.8 L439.2,1151.5 L441.5,1151.2 L443.7,1150.9 L446.0,1150.6 L448.3,1150.3 L450.5,1150.0 L452.8,1149.6 L455.1,1149.3 L457.3,1149.0 L459.6,1148.6 L461.9,1148.3 L464.1,1148.0 L466.4,1147.6 L468.7,1147.3 L470.9,1146.9 L473.2,1146.5 L475.5,1146.2 L477.7,1145.8 L480.0,1145.4 L482.3,1145.0 L484.5,1144.6 L486.8,1144.2 L489.1,1143.8 L491.3,1143.4 L493.6,1143.0 L495.9,1142.6 L498.1,1142.2 L500.4,1141.8 L502.7,1141.3 L504.9,1140.9 L507.2,1140.4 L509.5,1140.0 L511.7,1139.5 L514.0,1139.0 L516.3,1138.6 L518.5,1138.1 L520.8,1137.6 L523.1,1137.1 L525.3,1136.6 L527.6,1136.1 L529.9,1135.6 L532.1,1135.0 L534.4,1134.5 L536.7,1134.0 L538.9,1133.4 L541.2,1132.9 L543.5,1132.3 L545.7,1131.7 L548.0,1131.1 L550.3,1130.5 L552.5,1129.9 L554.8,1129.3 L557.1,1128.7 L559.3,1128.1 L561.6,1127.4 L563.9,1126.8 L566.1,1126.1 L568.4,1125.4 L570.7,1124.7 L572.9,1124.0 L575.2,1123.3 L577.5,1122.6 L579.7,1121.9 L582.0,1121.1 L584.3,1120.3 L586.5,1119.6 L588.8,1118.8 L591.1,1118.0 L593.3,1117.2 L595.6,1116.3 L597.9,1115.5 L600.1,1114.7 L602.4,1113.8 L604.7,1112.9 L606.9,1112.0 L609.2,1111.1 L611.5,1110.1 L613.7,1109.2 L616.0,1108.2 L618.3,1107.2 L620.5,1106.2 L622.8,1105.2 L625.1,1104.2 L627.3,1103.1 L629.6,1102.0 L631.9,1100.9 L634.1,1099.8 L636.4,1098.6 L638.7,1097.5 L640.9,1096.3 L643.2,1095.1 L645.5,1093.8 L647.7,1092.6 L650.0,1091.3 L652.3,1090.0 L654.5,1088.7 L656.8,1087.3 L659.1,1085.9 L661.3,1084.5 L663.6,1083.1 L665.9,1081.6 L668.1,1080.1 L670.4,1078.5 L672.7,1077.0 L674.9,1075.4 L677.2,1073.7 L679.5,1072.1 L681.7,1070.4 L684.0,1068.6 L686.3,1066.9 L688.5,1065.0 L690.8,1063.2 L693.1,1061.3 L695.3,1059.4 L697.6,1057.4 L699.9,1055.4 L702.1,1053.3 L704.4,1051.2 L706.7,1049.0 L708.9,1046.8 L711.2,1044.6 L713.5,1042.3 L715.7,1039.9 L718.0,1037.5 L720.3,1035.0 L722.5,1032.5 L724.8,1029.9 L727.1,1027.3 L729.3,1024.6 L731.6,1021.8 L733.9,1019.0 L736.1,1016.1 L738.4,1013.1 L740.7,1010.1 L742.9,1007.0 L745.2,1003.8 L747.5,1000.5 L749.7,997.2 L752.0,993.7 L754.3,990.2 L756.5,986.6 L758.8,982.9 L761.1,979.2 L763.3,975.3 L765.6,971.3 L767.9,967.3 L770.1,963.1 L772.4,958.8 L774.7,954.5 L776.9,950.0 L779.2,945.4 L781.5,940.7 L783.7,935.8 L786.0,930.9 L788.3,925.8 L790.5,920.6 L792.8,915.3 L795.1,909.8 L797.3,904.2 L799.6,898.4 L801.9,892.5 L804.1,886.5 L806.4,880.3 L808.7,874.0 L810.9,867.5 L813.2,860.8 L815.5,854.0 L817.7,847.0 L820.0,839.8 L822.3,832.5 L824.5,825.0 L826.8,817.4 L829.1,809.5 L831.3,801.5 L833.6,793.3 L835.9,784.9 L838.1,776.4 L840.4,767.7 L842.7,758.7 L844.9,749.7 L847.2,740.4 L849.5,731.0 L851.7,721.4 L854.0,711.6 L856.3,701.7 L858.5,691.6 L860.8,681.4 L863.1,671.0 L865.3,660.5 L867.6,649.9 L869.9,639.2 L872.1,628.4 L874.4,617.5 L876.7,606.6 L878.9,595.6 L881.2,584.6 L883.5,573.5 L885.7,562.5 L888.0,551.6 L890.3,540.7 L892.5,529.9 L894.8,519.2 L897.1,508.7 L899.3,498.4 L901.6,488.3 L903.9,478.4 L906.1,468.9 L908.4,459.6 L910.7,450.7 L912.9,442.2 L915.2,434.2 L917.5,426.5 L919.7,419.4 L922.0,412.8 L924.3,406.8 L926.5,401.4 L928.8,396.5 L931.1,392.3 L933.3,388.8 L935.6,385.9 L937.9,383.7 L940.1,382.3 L942.4,381.5 L944.7,381.5 L946.9,382.1 L949.2,383.5 L951.5,385.6 L953.7,388.4 L956.0,391.8 L958.3,395.9 L960.5,400.7 L962.8,406.1 L965.1,412.0 L967.3,418.5 L969.6,425.6 L971.9,433.1 L974.1,441.2 L976.4,449.6 L978.7,458.4 L980.9,467.6 L983.2,477.2 L985.5,487.0 L987.7,497.1 L990.0,507.4 L992.3,517.9 L994.5,528.5 L996.8,539.3 L999.1,550.2 L1001.3,561.1 L1003.6,572.1 L1005.9,583.1 L1008.1,594.1 L1010.4,605.1 L1012.7,616.1 L1014.9,627.0 L1017.2,637.8 L1019.5,648.5 L1021.7,659.1 L1024.0,669.7 L1026.3,680.0 L1028.5,690.3 L1030.8,700.4 L1033.1,710.3 L1035.3,720.1 L1037.6,729.7 L1039.9,739.2 L1042.1,748.5 L1044.4,757.6 L1046.7,766.5 L1048.9,775.3 L1051.2,783.8 L1053.5,792.2 L1055.7,800.4 L1058.0,808.5 L1060.3,816.4 L1062.5,824.0 L1064.8,831.6 L1067.1,838.9 L1069.3,846.1 L1071.6,853.1 L1073.9,859.9 L1076.1,866.6 L1078.4,873.1 L1080.7,879.5 L1082.9,885.7 L1085.2,891.7 L1087.5,897.7 L1089.7,903.4 L1092.0,909.1 L1094.3,914.5 L1096.5,919.9 L1098.8,925.1 L1101.1,930.2 L1103.3,935.2 L1105.6,940.0 L1107.9,944.8 L1110.1,949.4 L1112.4,953.9 L1114.7,958.3 L1116.9,962.6 L1119.2,966.7 L1121.5,970.8 L1123.7,974.8 L1126.0,978.7 L1128.3,982.5 L1130.5,986.2 L1132.8,989.8 L1135.1,993.3 L1137.3,996.7 L1139.6,1000.1 L1141.9,1003.3 L1144.1,1006.5 L1146.4,1009.7 L1148.7,1012.7 L1150.9,1015.7 L1153.2,1018.6 L1155.5,1021.4 L1157.7,1024.2 L1160.0,1026.9 L1162.3,1029.6 L1164.5,1032.2 L1166.8,1034.7 L1169.1,1037.2 L1171.3,1039.6 L1173.6,1042.0 L1175.9,1044.3 L1178.1,1046.5 L1180.4,1048.8 L1182.7,1050.9 L1184.9,1053.0 L1187.2,1055.1 L1189.5,1057.1 L1191.7,1059.1 L1194.0,1061.0 L1196.3,1062.9 L1198.5,1064.8 L1200.8,1066.6 L1203.1,1068.4 L1205.3,1070.1 L1207.6,1071.9 L1209.9,1073.5 L1212.1,1075.2 L1214.4,1076.8 L1216.7,1078.3 L1218.9,1079.9 L1221.2,1081.4 L1223.5,1082.9 L1225.7,1084.3 L1228.0,1085.7 L1230.3,1087.1 L1232.5,1088.5 L1234.8,1089.8 L1237.1,1091.1 L1239.3,1092.4 L1241.6,1093.7 L1243.9,1094.9 L1246.1,1096.1 L1248.4,1097.3 L1250.7,1098.5 L1252.9,1099.6 L1255.2,1100.8 L1257.5,1101.9 L1259.7,1103.0 L1262.0,1104.0 L1264.3,1105.1 L1266.5,1106.1 L1268.8,1107.1 L1271.1,1108.1 L1273.3,1109.1 L1275.6,1110.0 L1277.9,1111.0 L1280.1,1111.9 L1282.4,1112.8 L1284.7,1113.7 L1286.9,1114.5 L1289.2,1115.4 L1291.5,1116.2 L1293.7,1117.1 L1296.0,1117.9 L1298.3,1118.7 L1300.5,1119.5 L1302.8,1120.2 L1305.1,1121.0 L1307.3,1121.8 L1309.6,1122.5 L1311.9,1123.2 L1314.1,1123.9 L1316.4,1124.6 L1318.7,1125.3 L1320.9,1126.0 L1323.2,1126.7 L1325.5,1127.3 L1327.7,1128.0 L1330.0,1128.6 L1332.3,1129.2 L1334.5,1129.8 L1336.8,1130.5 L1339.1,1131.0 L1341.3,1131.6 L1343.6,1132.2 L1345.9,1132.8 L1348.1,1133.3 L1350.4,1133.9 L1352.7,1134.4 L1354.9,1135.0 L1357.2,1135.5 L1359.5,1136.0 L1361.7,1136.5 L1364.0,1137.0 L1366.3,1137.5 L1368.5,1138.0 L1370.8,1138.5 L1373.1,1139.0 L1375.3,1139.5 L1377.6,1139.9 L1379.9,1140.4 L1382.1,1140.8 L1384.4,1141.3 L1386.7,1141.7 L1388.9,1142.1 L1391.2,1142.6 L1393.5,1143.0 L1395.7,1143.4 L1398.0,1143.8 L1400.3,1144.2 L1402.5,1144.6 L1404.8,1145.0 L1407.1,1145.4 L1409.3,1145.7 L1411.6,1146.1 L1413.9,1146.5 L1416.1,1146.8 L1418.4,1147.2 L1420.7,1147.6 L1422.9,1147.9 L1425.2,1148.3 L1427.5,1148.6 L1429.7,1148.9 L1432.0,1149.3 L1434.3,1149.6 L1436.5,1149.9 L1438.8,1150.2 L1441.1,1150.6 L1443.3,1150.9 L1445.6,1151.2 L1447.9,1151.5 L1450.1,1151.8 L1452.4,1152.1 L1454.7,1152.4 L1456.9,1152.7 L1459.2,1152.9 L1461.5,1153.2 L1463.7,1153.5 L1466.0,1153.8 L1468.3,1154.0 L1470.5,1154.3 L1472.8,1154.6 L1475.1,1154.8 L1477.3,1155.1 L1479.6,1155.3 L1481.9,1155.6 L1484.1,1155.8 L1486.4,1156.1 L1488.7,1156.3 L1490.9,1156.6 L1493.2,1156.8 L1495.5,1157.0 L1497.7,1157.3 L1500.0,1157.5 L1502.3,1157.7 L1504.5,1158.0 L1506.8,1158.2 L1509.1,1158.4 L1511.3,1158.6 L1513.6,1158.8 L1515.9,1159.0 L1518.1,1159.3 L1520.4,1159.5 L1522.7,1159.7 L1524.9,1159.9 L1527.2,1160.1 L1529.5,1160.3 L1531.7,1160.5 L1534.0,1160.7 L1536.3,1160.8 L1538.5,1161.0 L1540.8,1161.2 L1543.1,1161.4 L1545.3,1161.6 L1547.6,1161.8 L1549.9,1161.9 L1552.1,1162.1 L1554.4,1162.3 L1556.7,1162.5 L1558.9,1162.6 L1561.2,1162.8 L1563.5,1163.0 L1565.7,1163.1 L1568.0,1163.3 L1570.3,1163.5 L1572.5,1163.6 L1574.8,1163.8 L1577.1,1164.0 L1579.3,1164.1 L1581.6,1164.3 L1583.9,1164.4 L1586.1,1164.6 L1588.4,1164.7 L1590.7,1164.9 L1592.9,1165.0 L1595.2,1165.2 L1597.5,1165.3 L1599.7,1165.4 L1602.0,1165.6 L1604.3,1165.7 L1606.5,1165.9 L1608.8,1166.0 L1611.1,1166.1 L1611.6,1166.2" stroke="#d0101e" stroke-width="4.6"/>
<path d="M362.1,1181.7 L364.4,1181.7 L366.7,1181.7 L368.9,1181.6 L371.2,1181.6 L373.5,1181.6 L375.7,1181.5 L378.0,1181.5 L380.3,1181.5 L382.5,1181.5 L384.8,1181.4 L387.1,1181.4 L389.3,1181.4 L391.6,1181.3 L393.9,1181.3 L396.1,1181.3 L398.4,1181.2 L400.7,1181.2 L402.9,1181.2 L405.2,1181.1 L407.5,1181.1 L409.7,1181.1 L412.0,1181.0 L414.3,1181.0 L416.5,1181.0 L418.8,1180.9 L421.1,1180.9 L423.3,1180.9 L425.6,1180.8 L427.9,1180.8 L430.1,1180.8 L432.4,1180.7 L434.7,1180.7 L436.9,1180.7 L439.2,1180.6 L441.5,1180.6 L443.7,1180.6 L446.0,1180.5 L448.3,1180.5 L450.5,1180.4 L452.8,1180.4 L455.1,1180.4 L457.3,1180.3 L459.6,1180.3 L461.9,1180.2 L464.1,1180.2 L466.4,1180.2 L468.7,1180.1 L470.9,1180.1 L473.2,1180.0 L475.5,1180.0 L477.7,1179.9 L480.0,1179.9 L482.3,1179.9 L484.5,1179.8 L486.8,1179.8 L489.1,1179.7 L491.3,1179.7 L493.6,1179.6 L495.9,1179.6 L498.1,1179.5 L500.4,1179.5 L502.7,1179.4 L504.9,1179.4 L507.2,1179.3 L509.5,1179.3 L511.7,1179.2 L514.0,1179.2 L516.3,1179.1 L518.5,1179.1 L520.8,1179.0 L523.1,1179.0 L525.3,1178.9 L527.6,1178.9 L529.9,1178.8 L532.1,1178.8 L534.4,1178.7 L536.7,1178.6 L538.9,1178.6 L541.2,1178.5 L543.5,1178.5 L545.7,1178.4 L548.0,1178.4 L550.3,1178.3 L552.5,1178.2 L554.8,1178.2 L557.1,1178.1 L559.3,1178.0 L561.6,1178.0 L563.9,1177.9 L566.1,1177.8 L568.4,1177.8 L570.7,1177.7 L572.9,1177.6 L575.2,1177.6 L577.5,1177.5 L579.7,1177.4 L582.0,1177.4 L584.3,1177.3 L586.5,1177.2 L588.8,1177.2 L591.1,1177.1 L593.3,1177.0 L595.6,1176.9 L597.9,1176.9 L600.1,1176.8 L602.4,1176.7 L604.7,1176.6 L606.9,1176.5 L609.2,1176.5 L611.5,1176.4 L613.7,1176.3 L616.0,1176.2 L618.3,1176.1 L620.5,1176.0 L622.8,1175.9 L625.1,1175.9 L627.3,1175.8 L629.6,1175.7 L631.9,1175.6 L634.1,1175.5 L636.4,1175.4 L638.7,1175.3 L640.9,1175.2 L643.2,1175.1 L645.5,1175.0 L647.7,1174.9 L650.0,1174.8 L652.3,1174.7 L654.5,1174.6 L656.8,1174.5 L659.1,1174.4 L661.3,1174.3 L663.6,1174.2 L665.9,1174.0 L668.1,1173.9 L670.4,1173.8 L672.7,1173.7 L674.9,1173.6 L677.2,1173.5 L679.5,1173.3 L681.7,1173.2 L684.0,1173.1 L686.3,1173.0 L688.5,1172.8 L690.8,1172.7 L693.1,1172.6 L695.3,1172.4 L697.6,1172.3 L699.9,1172.2 L702.1,1172.0 L704.4,1171.9 L706.7,1171.7 L708.9,1171.6 L711.2,1171.5 L713.5,1171.3 L715.7,1171.2 L718.0,1171.0 L720.3,1170.8 L722.5,1170.7 L724.8,1170.5 L727.1,1170.4 L729.3,1170.2 L731.6,1170.0 L733.9,1169.9 L736.1,1169.7 L738.4,1169.5 L740.7,1169.3 L742.9,1169.1 L745.2,1169.0 L747.5,1168.8 L749.7,1168.6 L752.0,1168.4 L754.3,1168.2 L756.5,1168.0 L758.8,1167.8 L761.1,1167.6 L763.3,1167.4 L765.6,1167.2 L767.9,1166.9 L770.1,1166.7 L772.4,1166.5 L774.7,1166.3 L776.9,1166.0 L779.2,1165.8 L781.5,1165.6 L783.7,1165.3 L786.0,1165.1 L788.3,1164.8 L790.5,1164.6 L792.8,1164.3 L795.1,1164.0 L797.3,1163.8 L799.6,1163.5 L801.9,1163.2 L804.1,1162.9 L806.4,1162.6 L808.7,1162.4 L810.9,1162.1 L813.2,1161.8 L815.5,1161.4 L817.7,1161.1 L820.0,1160.8 L822.3,1160.5 L824.5,1160.1 L826.8,1159.8 L829.1,1159.5 L831.3,1159.1 L833.6,1158.8 L835.9,1158.4 L838.1,1158.0 L840.4,1157.6 L842.7,1157.2 L844.9,1156.9 L847.2,1156.4 L849.5,1156.0 L851.7,1155.6 L854.0,1155.2 L856.3,1154.8 L858.5,1154.3 L860.8,1153.9 L863.1,1153.4 L865.3,1152.9 L867.6,1152.5 L869.9,1152.0 L872.1,1151.5 L874.4,1151.0 L876.7,1150.4 L878.9,1149.9 L881.2,1149.4 L883.5,1148.8 L885.7,1148.2 L888.0,1147.7 L890.3,1147.1 L892.5,1146.5 L894.8,1145.8 L897.1,1145.2 L899.3,1144.6 L901.6,1143.9 L903.9,1143.2 L906.1,1142.6 L908.4,1141.9 L910.7,1141.1 L912.9,1140.4 L915.2,1139.6 L917.5,1138.9 L919.7,1138.1 L922.0,1137.3 L924.3,1136.5 L926.5,1135.6 L928.8,1134.8 L931.1,1133.9 L933.3,1133.0 L935.6,1132.1 L937.9,1131.1 L940.1,1130.1 L942.4,1129.2 L944.7,1128.1 L946.9,1127.1 L949.2,1126.0 L951.5,1124.9 L953.7,1123.8 L956.0,1122.7 L958.3,1121.5 L960.5,1120.3 L962.8,1119.1 L965.1,1117.8 L967.3,1116.5 L969.6,1115.2 L971.9,1113.9 L974.1,1112.5 L976.4,1111.0 L978.7,1109.6 L980.9,1108.1 L983.2,1106.6 L985.5,1105.0 L987.7,1103.4 L990.0,1101.7 L992.3,1100.0 L994.5,1098.3 L996.8,1096.5 L999.1,1094.7 L1001.3,1092.8 L1003.6,1090.9 L1005.9,1089.0 L1008.1,1087.0 L1010.4,1084.9 L1012.7,1082.8 L1014.9,1080.7 L1017.2,1078.4 L1019.5,1076.2 L1021.7,1073.9 L1024.0,1071.5 L1026.3,1069.1 L1028.5,1066.6 L1030.8,1064.1 L1033.1,1061.5 L1035.3,1058.9 L1037.6,1056.2 L1039.9,1053.4 L1042.1,1050.6 L1044.4,1047.8 L1046.7,1044.9 L1048.9,1041.9 L1051.2,1038.9 L1053.5,1035.8 L1055.7,1032.7 L1058.0,1029.5 L1060.3,1026.3 L1062.5,1023.1 L1064.8,1019.8 L1067.1,1016.5 L1069.3,1013.1 L1071.6,1009.7 L1073.9,1006.3 L1076.1,1002.9 L1078.4,999.4 L1080.7,996.0 L1082.9,992.6 L1085.2,989.1 L1087.5,985.7 L1089.7,982.3 L1092.0,978.9 L1094.3,975.6 L1096.5,972.3 L1098.8,969.1 L1101.1,966.0 L1103.3,962.9 L1105.6,959.9 L1107.9,957.1 L1110.1,954.3 L1112.4,951.6 L1114.7,949.1 L1116.9,946.8 L1119.2,944.5 L1121.5,942.5 L1123.7,940.6 L1126.0,938.9 L1128.3,937.4 L1130.5,936.1 L1132.8,935.0 L1135.1,934.1 L1137.3,933.4 L1139.6,933.0 L1141.9,932.7 L1144.1,932.7 L1146.4,932.9 L1148.7,933.3 L1150.9,934.0 L1153.2,934.8 L1155.5,935.9 L1157.7,937.1 L1160.0,938.6 L1162.3,940.3 L1164.5,942.1 L1166.8,944.1 L1169.1,946.3 L1171.3,948.6 L1173.6,951.1 L1175.9,953.7 L1178.1,956.5 L1180.4,959.3 L1182.7,962.3 L1184.9,965.4 L1187.2,968.5 L1189.5,971.7 L1191.7,975.0 L1194.0,978.3 L1196.3,981.6 L1198.5,985.0 L1200.8,988.4 L1203.1,991.9 L1205.3,995.3 L1207.6,998.8 L1209.9,1002.2 L1212.1,1005.6 L1214.4,1009.0 L1216.7,1012.4 L1218.9,1015.8 L1221.2,1019.1 L1223.5,1022.4 L1225.7,1025.7 L1228.0,1028.9 L1230.3,1032.1 L1232.5,1035.2 L1234.8,1038.3 L1237.1,1041.3 L1239.3,1044.3 L1241.6,1047.2 L1243.9,1050.1 L1246.1,1052.9 L1248.4,1055.6 L1250.7,1058.3 L1252.9,1061.0 L1255.2,1063.6 L1257.5,1066.1 L1259.7,1068.6 L1262.0,1071.0 L1264.3,1073.4 L1266.5,1075.7 L1268.8,1078.0 L1271.1,1080.2 L1273.3,1082.4 L1275.6,1084.5 L1277.9,1086.6 L1280.1,1088.6 L1282.4,1090.5 L1284.7,1092.5 L1286.9,1094.3 L1289.2,1096.2 L1291.5,1098.0 L1293.7,1099.7 L1296.0,1101.4 L1298.3,1103.1 L1300.5,1104.7 L1302.8,1106.3 L1305.1,1107.8 L1307.3,1109.3 L1309.6,1110.8 L1311.9,1112.2 L1314.1,1113.6 L1316.4,1114.9 L1318.7,1116.3 L1320.9,1117.6 L1323.2,1118.8 L1325.5,1120.1 L1327.7,1121.3 L1330.0,1122.5 L1332.3,1123.6 L1334.5,1124.7 L1336.8,1125.8 L1339.1,1126.9 L1341.3,1127.9 L1343.6,1129.0 L1345.9,1129.9 L1348.1,1130.9 L1350.4,1131.9 L1352.7,1132.8 L1354.9,1133.7 L1357.2,1134.6 L1359.5,1135.5 L1361.7,1136.3 L1364.0,1137.1 L1366.3,1137.9 L1368.5,1138.7 L1370.8,1139.5 L1373.1,1140.2 L1375.3,1141.0 L1377.6,1141.7 L1379.9,1142.4 L1382.1,1143.1 L1384.4,1143.8 L1386.7,1144.4 L1388.9,1145.1 L1391.2,1145.7 L1393.5,1146.3 L1395.7,1146.9 L1398.0,1147.5 L1400.3,1148.1 L1402.5,1148.7 L1404.8,1149.2 L1407.1,1149.8 L1409.3,1150.3 L1411.6,1150.8 L1413.9,1151.4 L1416.1,1151.9 L1418.4,1152.4 L1420.7,1152.8 L1422.9,1153.3 L1425.2,1153.8 L1427.5,1154.2 L1429.7,1154.7 L1432.0,1155.1 L1434.3,1155.5 L1436.5,1156.0 L1438.8,1156.4 L1441.1,1156.8 L1443.3,1157.2 L1445.6,1157.6 L1447.9,1157.9 L1450.1,1158.3 L1452.4,1158.7 L1454.7,1159.0 L1456.9,1159.4 L1459.2,1159.7 L1461.5,1160.1 L1463.7,1160.4 L1466.0,1160.7 L1468.3,1161.1 L1470.5,1161.4 L1472.8,1161.7 L1475.1,1162.0 L1477.3,1162.3 L1479.6,1162.6 L1481.9,1162.9 L1484.1,1163.2 L1486.4,1163.4 L1488.7,1163.7 L1490.9,1164.0 L1493.2,1164.3 L1495.5,1164.5 L1497.7,1164.8 L1500.0,1165.0 L1502.3,1165.3 L1504.5,1165.5 L1506.8,1165.8 L1509.1,1166.0 L1511.3,1166.2 L1513.6,1166.5 L1515.9,1166.7 L1518.1,1166.9 L1520.4,1167.1 L1522.7,1167.3 L1524.9,1167.5 L1527.2,1167.7 L1529.5,1167.9 L1531.7,1168.1 L1534.0,1168.3 L1536.3,1168.5 L1538.5,1168.7 L1540.8,1168.9 L1543.1,1169.1 L1545.3,1169.3 L1547.6,1169.5 L1549.9,1169.6 L1552.1,1169.8 L1554.4,1170.0 L1556.7,1170.2 L1558.9,1170.3 L1561.2,1170.5 L1563.5,1170.7 L1565.7,1170.8 L1568.0,1171.0 L1570.3,1171.1 L1572.5,1171.3 L1574.8,1171.4 L1577.1,1171.6 L1579.3,1171.7 L1581.6,1171.9 L1583.9,1172.0 L1586.1,1172.1 L1588.4,1172.3 L1590.7,1172.4 L1592.9,1172.6 L1595.2,1172.7 L1597.5,1172.8 L1599.7,1172.9 L1602.0,1173.1 L1604.3,1173.2 L1606.5,1173.3 L1608.8,1173.4 L1611.1,1173.6 L1611.6,1173.6" stroke="#1010c8" stroke-width="4.6"/>
<path d="M362.1,1184.9 L364.4,1184.9 L366.7,1184.9 L368.9,1184.9 L371.2,1184.9 L373.5,1184.9 L375.7,1184.9 L378.0,1184.9 L380.3,1184.8 L382.5,1184.8 L384.8,1184.8 L387.1,1184.8 L389.3,1184.8 L391.6,1184.8 L393.9,1184.8 L396.1,1184.8 L398.4,1184.8 L400.7,1184.8 L402.9,1184.8 L405.2,1184.7 L407.5,1184.7 L409.7,1184.7 L412.0,1184.7 L414.3,1184.7 L416.5,1184.7 L418.8,1184.7 L421.1,1184.7 L423.3,1184.7 L425.6,1184.7 L427.9,1184.6 L430.1,1184.6 L432.4,1184.6 L434.7,1184.6 L436.9,1184.6 L439.2,1184.6 L441.5,1184.6 L443.7,1184.6 L446.0,1184.6 L448.3,1184.5 L450.5,1184.5 L452.8,1184.5 L455.1,1184.5 L457.3,1184.5 L459.6,1184.5 L461.9,1184.5 L464.1,1184.5 L466.4,1184.4 L468.7,1184.4 L470.9,1184.4 L473.2,1184.4 L475.5,1184.4 L477.7,1184.4 L480.0,1184.4 L482.3,1184.4 L484.5,1184.3 L486.8,1184.3 L489.1,1184.3 L491.3,1184.3 L493.6,1184.3 L495.9,1184.3 L498.1,1184.3 L500.4,1184.3 L502.7,1184.2 L504.9,1184.2 L507.2,1184.2 L509.5,1184.2 L511.7,1184.2 L514.0,1184.2 L516.3,1184.1 L518.5,1184.1 L520.8,1184.1 L523.1,1184.1 L525.3,1184.1 L527.6,1184.1 L529.9,1184.1 L532.1,1184.0 L534.4,1184.0 L536.7,1184.0 L538.9,1184.0 L541.2,1184.0 L543.5,1184.0 L545.7,1183.9 L548.0,1183.9 L550.3,1183.9 L552.5,1183.9 L554.8,1183.9 L557.1,1183.9 L559.3,1183.8 L561.6,1183.8 L563.9,1183.8 L566.1,1183.8 L568.4,1183.8 L570.7,1183.7 L572.9,1183.7 L575.2,1183.7 L577.5,1183.7 L579.7,1183.7 L582.0,1183.6 L584.3,1183.6 L586.5,1183.6 L588.8,1183.6 L591.1,1183.6 L593.3,1183.5 L595.6,1183.5 L597.9,1183.5 L600.1,1183.5 L602.4,1183.5 L604.7,1183.4 L606.9,1183.4 L609.2,1183.4 L611.5,1183.4 L613.7,1183.3 L616.0,1183.3 L618.3,1183.3 L620.5,1183.3 L622.8,1183.2 L625.1,1183.2 L627.3,1183.2 L629.6,1183.2 L631.9,1183.1 L634.1,1183.1 L636.4,1183.1 L638.7,1183.1 L640.9,1183.0 L643.2,1183.0 L645.5,1183.0 L647.7,1183.0 L650.0,1182.9 L652.3,1182.9 L654.5,1182.9 L656.8,1182.8 L659.1,1182.8 L661.3,1182.8 L663.6,1182.8 L665.9,1182.7 L668.1,1182.7 L670.4,1182.7 L672.7,1182.6 L674.9,1182.6 L677.2,1182.6 L679.5,1182.5 L681.7,1182.5 L684.0,1182.5 L686.3,1182.4 L688.5,1182.4 L690.8,1182.4 L693.1,1182.3 L695.3,1182.3 L697.6,1182.3 L699.9,1182.2 L702.1,1182.2 L704.4,1182.1 L706.7,1182.1 L708.9,1182.1 L711.2,1182.0 L713.5,1182.0 L715.7,1182.0 L718.0,1181.9 L720.3,1181.9 L722.5,1181.8 L724.8,1181.8 L727.1,1181.7 L729.3,1181.7 L731.6,1181.7 L733.9,1181.6 L736.1,1181.6 L738.4,1181.5 L740.7,1181.5 L742.9,1181.4 L745.2,1181.4 L747.5,1181.3 L749.7,1181.3 L752.0,1181.2 L754.3,1181.2 L756.5,1181.1 L758.8,1181.1 L761.1,1181.0 L763.3,1181.0 L765.6,1180.9 L767.9,1180.9 L770.1,1180.8 L772.4,1180.8 L774.7,1180.7 L776.9,1180.6 L779.2,1180.6 L781.5,1180.5 L783.7,1180.5 L786.0,1180.4 L788.3,1180.3 L790.5,1180.3 L792.8,1180.2 L795.1,1180.1 L797.3,1180.1 L799.6,1180.0 L801.9,1179.9 L804.1,1179.9 L806.4,1179.8 L808.7,1179.7 L810.9,1179.6 L813.2,1179.6 L815.5,1179.5 L817.7,1179.4 L820.0,1179.3 L822.3,1179.3 L824.5,1179.2 L826.8,1179.1 L829.1,1179.0 L831.3,1178.9 L833.6,1178.8 L835.9,1178.8 L838.1,1178.7 L840.4,1178.6 L842.7,1178.5 L844.9,1178.4 L847.2,1178.3 L849.5,1178.2 L851.7,1178.1 L854.0,1178.0 L856.3,1177.9 L858.5,1177.8 L860.8,1177.7 L863.1,1177.6 L865.3,1177.4 L867.6,1177.3 L869.9,1177.2 L872.1,1177.1 L874.4,1177.0 L876.7,1176.9 L878.9,1176.7 L881.2,1176.6 L883.5,1176.5 L885.7,1176.3 L888.0,1176.2 L890.3,1176.1 L892.5,1175.9 L894.8,1175.8 L897.1,1175.6 L899.3,1175.5 L901.6,1175.3 L903.9,1175.2 L906.1,1175.0 L908.4,1174.9 L910.7,1174.7 L912.9,1174.5 L915.2,1174.4 L917.5,1174.2 L919.7,1174.0 L922.0,1173.8 L924.3,1173.6 L926.5,1173.5 L928.8,1173.3 L931.1,1173.1 L933.3,1172.9 L935.6,1172.6 L937.9,1172.4 L940.1,1172.2 L942.4,1172.0 L944.7,1171.8 L946.9,1171.5 L949.2,1171.3 L951.5,1171.0 L953.7,1170.8 L956.0,1170.5 L958.3,1170.3 L960.5,1170.0 L962.8,1169.7 L965.1,1169.4 L967.3,1169.1 L969.6,1168.8 L971.9,1168.5 L974.1,1168.2 L976.4,1167.9 L978.7,1167.6 L980.9,1167.2 L983.2,1166.9 L985.5,1166.5 L987.7,1166.1 L990.0,1165.8 L992.3,1165.4 L994.5,1165.0 L996.8,1164.6 L999.1,1164.1 L1001.3,1163.7 L1003.6,1163.3 L1005.9,1162.8 L1008.1,1162.3 L1010.4,1161.8 L1012.7,1161.3 L1014.9,1160.8 L1017.2,1160.3 L1019.5,1159.7 L1021.7,1159.1 L1024.0,1158.6 L1026.3,1158.0 L1028.5,1157.3 L1030.8,1156.7 L1033.1,1156.0 L1035.3,1155.3 L1037.6,1154.6 L1039.9,1153.9 L1042.1,1153.1 L1044.4,1152.3 L1046.7,1151.5 L1048.9,1150.7 L1051.2,1149.8 L1053.5,1148.9 L1055.7,1147.9 L1058.0,1147.0 L1060.3,1145.9 L1062.5,1144.9 L1064.8,1143.8 L1067.1,1142.7 L1069.3,1141.5 L1071.6,1140.3 L1073.9,1139.0 L1076.1,1137.7 L1078.4,1136.3 L1080.7,1134.9 L1082.9,1133.4 L1085.2,1131.8 L1087.5,1130.2 L1089.7,1128.5 L1092.0,1126.7 L1094.3,1124.9 L1096.5,1122.9 L1098.8,1120.9 L1101.1,1118.8 L1103.3,1116.6 L1105.6,1114.3 L1107.9,1111.8 L1110.1,1109.3 L1112.4,1106.6 L1114.7,1103.8 L1116.9,1100.8 L1119.2,1097.8 L1121.5,1094.5 L1123.7,1091.1 L1126.0,1087.5 L1128.3,1083.7 L1130.5,1079.7 L1132.8,1075.4 L1135.1,1071.0 L1137.3,1066.3 L1139.6,1061.3 L1141.9,1056.0 L1144.1,1050.5 L1146.4,1044.6 L1148.7,1038.4 L1150.9,1031.8 L1153.2,1024.9 L1155.5,1017.5 L1157.7,1009.7 L1160.0,1001.4 L1162.3,992.6 L1164.5,983.4 L1166.8,973.5 L1169.1,963.1 L1171.3,952.2 L1173.6,940.5 L1175.9,928.3 L1178.1,915.4 L1180.4,901.9 L1182.7,887.7 L1184.9,872.9 L1187.2,857.4 L1189.5,841.4 L1191.7,824.8 L1194.0,807.8 L1196.3,790.5 L1198.5,773.1 L1200.8,755.6 L1203.1,738.3 L1205.3,721.4 L1207.6,705.1 L1209.9,689.9 L1212.1,675.9 L1214.4,663.4 L1216.7,652.8 L1218.9,644.2 L1221.2,638.0 L1223.5,634.3 L1225.7,633.1 L1228.0,634.6 L1230.3,638.7 L1232.5,645.2 L1234.8,654.0 L1237.1,664.9 L1239.3,677.6 L1241.6,691.8 L1243.9,707.2 L1246.1,723.5 L1248.4,740.5 L1250.7,757.8 L1252.9,775.3 L1255.2,792.8 L1257.5,810.1 L1259.7,827.0 L1262.0,843.5 L1264.3,859.4 L1266.5,874.8 L1268.8,889.6 L1271.1,903.7 L1273.3,917.1 L1275.6,929.9 L1277.9,942.1 L1280.1,953.6 L1282.4,964.5 L1284.7,974.8 L1286.9,984.6 L1289.2,993.8 L1291.5,1002.5 L1293.7,1010.7 L1296.0,1018.5 L1298.3,1025.8 L1300.5,1032.7 L1302.8,1039.2 L1305.1,1045.4 L1307.3,1051.2 L1309.6,1056.7 L1311.9,1062.0 L1314.1,1066.9 L1316.4,1071.6 L1318.7,1076.0 L1320.9,1080.2 L1323.2,1084.2 L1325.5,1087.9 L1327.7,1091.5 L1330.0,1094.9 L1332.3,1098.2 L1334.5,1101.2 L1336.8,1104.2 L1339.1,1107.0 L1341.3,1109.6 L1343.6,1112.1 L1345.9,1114.6 L1348.1,1116.9 L1350.4,1119.1 L1352.7,1121.2 L1354.9,1123.2 L1357.2,1125.1 L1359.5,1126.9 L1361.7,1128.7 L1364.0,1130.4 L1366.3,1132.0 L1368.5,1133.6 L1370.8,1135.1 L1373.1,1136.5 L1375.3,1137.8 L1377.6,1139.2 L1379.9,1140.4 L1382.1,1141.7 L1384.4,1142.8 L1386.7,1143.9 L1388.9,1145.0 L1391.2,1146.1 L1393.5,1147.1 L1395.7,1148.1 L1398.0,1149.0 L1400.3,1149.9 L1402.5,1150.8 L1404.8,1151.6 L1407.1,1152.4 L1409.3,1153.2 L1411.6,1154.0 L1413.9,1154.7 L1416.1,1155.4 L1418.4,1156.1 L1420.7,1156.8 L1422.9,1157.4 L1425.2,1158.0 L1427.5,1158.6 L1429.7,1159.2 L1432.0,1159.8 L1434.3,1160.3 L1436.5,1160.9 L1438.8,1161.4 L1441.1,1161.9 L1443.3,1162.4 L1445.6,1162.9 L1447.9,1163.3 L1450.1,1163.8 L1452.4,1164.2 L1454.7,1164.6 L1456.9,1165.0 L1459.2,1165.4 L1461.5,1165.8 L1463.7,1166.2 L1466.0,1166.6 L1468.3,1166.9 L1470.5,1167.3 L1472.8,1167.6 L1475.1,1167.9 L1477.3,1168.3 L1479.6,1168.6 L1481.9,1168.9 L1484.1,1169.2 L1486.4,1169.5 L1488.7,1169.8 L1490.9,1170.0 L1493.2,1170.3 L1495.5,1170.6 L1497.7,1170.8 L1500.0,1171.1 L1502.3,1171.3 L1504.5,1171.6 L1506.8,1171.8 L1509.1,1172.0 L1511.3,1172.2 L1513.6,1172.5 L1515.9,1172.7 L1518.1,1172.9 L1520.4,1173.1 L1522.7,1173.3 L1524.9,1173.5 L1527.2,1173.7 L1529.5,1173.9 L1531.7,1174.0 L1534.0,1174.2 L1536.3,1174.4 L1538.5,1174.6 L1540.8,1174.7 L1543.1,1174.9 L1545.3,1175.1 L1547.6,1175.2 L1549.9,1175.4 L1552.1,1175.5 L1554.4,1175.7 L1556.7,1175.8 L1558.9,1176.0 L1561.2,1176.1 L1563.5,1176.2 L1565.7,1176.4 L1568.0,1176.5 L1570.3,1176.6 L1572.5,1176.8 L1574.8,1176.9 L1577.1,1177.0 L1579.3,1177.1 L1581.6,1177.2 L1583.9,1177.4 L1586.1,1177.5 L1588.4,1177.6 L1590.7,1177.7 L1592.9,1177.8 L1595.2,1177.9 L1597.5,1178.0 L1599.7,1178.1 L1602.0,1178.2 L1604.3,1178.3 L1606.5,1178.4 L1608.8,1178.5 L1611.1,1178.6 L1611.6,1178.6" stroke="#1a7a6c" stroke-width="4.6"/>
<path d="M362.1,1137.2 L364.4,1136.8 L366.7,1136.4 L368.9,1135.9 L371.2,1135.5 L373.5,1135.0 L375.7,1134.6 L378.0,1134.1 L380.3,1133.7 L382.5,1133.2 L384.8,1132.7 L387.1,1132.2 L389.3,1131.7 L391.6,1131.2 L393.9,1130.7 L396.1,1130.2 L398.4,1129.7 L400.7,1129.1 L402.9,1128.6 L405.2,1128.0 L407.5,1127.5 L409.7,1126.9 L412.0,1126.3 L414.3,1125.8 L416.5,1125.2 L418.8,1124.6 L421.1,1124.0 L423.3,1123.3 L425.6,1122.7 L427.9,1122.1 L430.1,1121.4 L432.4,1120.8 L434.7,1120.1 L436.9,1119.4 L439.2,1118.7 L441.5,1118.0 L443.7,1117.3 L446.0,1116.6 L448.3,1115.9 L450.5,1115.1 L452.8,1114.4 L455.1,1113.6 L457.3,1112.8 L459.6,1112.0 L461.9,1111.2 L464.1,1110.4 L466.4,1109.6 L468.7,1108.7 L470.9,1107.9 L473.2,1107.0 L475.5,1106.1 L477.7,1105.2 L480.0,1104.3 L482.3,1103.4 L484.5,1102.4 L486.8,1101.5 L489.1,1100.5 L491.3,1099.5 L493.6,1098.5 L495.9,1097.4 L498.1,1096.4 L500.4,1095.3 L502.7,1094.2 L504.9,1093.1 L507.2,1092.0 L509.5,1090.8 L511.7,1089.7 L514.0,1088.5 L516.3,1087.3 L518.5,1086.1 L520.8,1084.8 L523.1,1083.5 L525.3,1082.2 L527.6,1080.9 L529.9,1079.6 L532.1,1078.2 L534.4,1076.8 L536.7,1075.4 L538.9,1074.0 L541.2,1072.5 L543.5,1071.0 L545.7,1069.5 L548.0,1068.0 L550.3,1066.4 L552.5,1064.8 L554.8,1063.2 L557.1,1061.5 L559.3,1059.8 L561.6,1058.1 L563.9,1056.4 L566.1,1054.6 L568.4,1052.8 L570.7,1051.0 L572.9,1049.1 L575.2,1047.2 L577.5,1045.3 L579.7,1043.4 L582.0,1041.4 L584.3,1039.4 L586.5,1037.3 L588.8,1035.3 L591.1,1033.2 L593.3,1031.0 L595.6,1028.8 L597.9,1026.6 L600.1,1024.4 L602.4,1022.2 L604.7,1019.9 L606.9,1017.5 L609.2,1015.2 L611.5,1012.8 L613.7,1010.4 L616.0,1008.0 L618.3,1005.5 L620.5,1003.1 L622.8,1000.6 L625.1,998.0 L627.3,995.5 L629.6,992.9 L631.9,990.3 L634.1,987.7 L636.4,985.1 L638.7,982.5 L640.9,979.8 L643.2,977.2 L645.5,974.5 L647.7,971.9 L650.0,969.2 L652.3,966.5 L654.5,963.9 L656.8,961.2 L659.1,958.5 L661.3,955.9 L663.6,953.2 L665.9,950.6 L668.1,948.0 L670.4,945.4 L672.7,942.8 L674.9,940.2 L677.2,937.7 L679.5,935.1 L681.7,932.6 L684.0,930.1 L686.3,927.7 L688.5,925.3 L690.8,922.9 L693.1,920.5 L695.3,918.1 L697.6,915.8 L699.9,913.5 L702.1,911.3 L704.4,909.0 L706.7,906.8 L708.9,904.6 L711.2,902.4 L713.5,900.2 L715.7,898.1 L718.0,895.9 L720.3,893.8 L722.5,891.7 L724.8,889.6 L727.1,887.4 L729.3,885.3 L731.6,883.1 L733.9,881.0 L736.1,878.8 L738.4,876.6 L740.7,874.3 L742.9,872.1 L745.2,869.7 L747.5,867.4 L749.7,865.0 L752.0,862.5 L754.3,860.0 L756.5,857.4 L758.8,854.8 L761.1,852.0 L763.3,849.2 L765.6,846.3 L767.9,843.3 L770.1,840.2 L772.4,837.0 L774.7,833.7 L776.9,830.3 L779.2,826.8 L781.5,823.2 L783.7,819.4 L786.0,815.5 L788.3,811.5 L790.5,807.3 L792.8,803.0 L795.1,798.5 L797.3,793.9 L799.6,789.1 L801.9,784.2 L804.1,779.1 L806.4,773.8 L808.7,768.3 L810.9,762.7 L813.2,756.9 L815.5,750.9 L817.7,744.7 L820.0,738.3 L822.3,731.8 L824.5,725.0 L826.8,718.0 L829.1,710.9 L831.3,703.5 L833.6,695.9 L835.9,688.2 L838.1,680.2 L840.4,672.0 L842.7,663.6 L844.9,655.0 L847.2,646.2 L849.5,637.2 L851.7,628.0 L854.0,618.6 L856.3,609.1 L858.5,599.3 L860.8,589.4 L863.1,579.3 L865.3,569.0 L867.6,558.7 L869.9,548.1 L872.1,537.5 L874.4,526.7 L876.7,515.9 L878.9,505.0 L881.2,494.0 L883.5,483.0 L885.7,472.0 L888.0,461.0 L890.3,450.1 L892.5,439.2 L894.8,428.4 L897.1,417.7 L899.3,407.2 L901.6,396.9 L903.9,386.8 L906.1,377.0 L908.4,367.4 L910.7,358.2 L912.9,349.3 L915.2,340.9 L917.5,332.8 L919.7,325.3 L922.0,318.2 L924.3,311.6 L926.5,305.6 L928.8,300.2 L931.1,295.4 L933.3,291.2 L935.6,287.7 L937.9,284.8 L940.1,282.5 L942.4,281.0 L944.7,280.1 L946.9,279.9 L949.2,280.4 L951.5,281.5 L953.7,283.3 L956.0,285.7 L958.3,288.8 L960.5,292.4 L962.8,296.6 L965.1,301.4 L967.3,306.6 L969.6,312.4 L971.9,318.6 L974.1,325.2 L976.4,332.3 L978.7,339.6 L980.9,347.3 L983.2,355.2 L985.5,363.4 L987.7,371.8 L990.0,380.3 L992.3,389.0 L994.5,397.8 L996.8,406.7 L999.1,415.6 L1001.3,424.5 L1003.6,433.4 L1005.9,442.2 L1008.1,451.0 L1010.4,459.7 L1012.7,468.3 L1014.9,476.7 L1017.2,485.0 L1019.5,493.2 L1021.7,501.1 L1024.0,508.9 L1026.3,516.5 L1028.5,523.8 L1030.8,530.9 L1033.1,537.8 L1035.3,544.5 L1037.6,550.9 L1039.9,557.1 L1042.1,563.0 L1044.4,568.6 L1046.7,574.0 L1048.9,579.1 L1051.2,584.0 L1053.5,588.6 L1055.7,592.9 L1058.0,597.0 L1060.3,600.8 L1062.5,604.3 L1064.8,607.6 L1067.1,610.7 L1069.3,613.5 L1071.6,616.0 L1073.9,618.3 L1076.1,620.4 L1078.4,622.3 L1080.7,623.9 L1082.9,625.3 L1085.2,626.5 L1087.5,627.5 L1089.7,628.3 L1092.0,629.0 L1094.3,629.4 L1096.5,629.7 L1098.8,629.8 L1101.1,629.7 L1103.3,629.6 L1105.6,629.2 L1107.9,628.8 L1110.1,628.2 L1112.4,627.5 L1114.7,626.7 L1116.9,625.8 L1119.2,624.7 L1121.5,623.6 L1123.7,622.4 L1126.0,621.1 L1128.3,619.7 L1130.5,618.2 L1132.8,616.5 L1135.1,614.8 L1137.3,613.0 L1139.6,611.0 L1141.9,608.9 L1144.1,606.6 L1146.4,604.1 L1148.7,601.5 L1150.9,598.6 L1153.2,595.5 L1155.5,592.1 L1157.7,588.4 L1160.0,584.4 L1162.3,580.0 L1164.5,575.3 L1166.8,570.1 L1169.1,564.4 L1171.3,558.3 L1173.6,551.6 L1175.9,544.4 L1178.1,536.6 L1180.4,528.2 L1182.7,519.2 L1184.9,509.6 L1187.2,499.4 L1189.5,488.7 L1191.7,477.5 L1194.0,465.8 L1196.3,453.8 L1198.5,441.7 L1200.8,429.5 L1203.1,417.5 L1205.3,405.8 L1207.6,394.8 L1209.9,384.7 L1212.1,375.8 L1214.4,368.5 L1216.7,362.8 L1218.9,359.3 L1221.2,358.0 L1223.5,359.1 L1225.7,362.7 L1228.0,368.9 L1230.3,377.5 L1232.5,388.6 L1234.8,401.9 L1237.1,417.2 L1239.3,434.2 L1241.6,452.6 L1243.9,472.2 L1246.1,492.6 L1248.4,513.6 L1250.7,534.9 L1252.9,556.2 L1255.2,577.5 L1257.5,598.4 L1259.7,619.0 L1262.0,639.0 L1264.3,658.4 L1266.5,677.2 L1268.8,695.3 L1271.1,712.6 L1273.3,729.3 L1275.6,745.2 L1277.9,760.4 L1280.1,774.9 L1282.4,788.7 L1284.7,801.9 L1286.9,814.4 L1289.2,826.4 L1291.5,837.7 L1293.7,848.6 L1296.0,858.9 L1298.3,868.7 L1300.5,878.1 L1302.8,887.0 L1305.1,895.5 L1307.3,903.6 L1309.6,911.4 L1311.9,918.8 L1314.1,925.9 L1316.4,932.6 L1318.7,939.1 L1320.9,945.3 L1323.2,951.3 L1325.5,957.0 L1327.7,962.5 L1330.0,967.7 L1332.3,972.8 L1334.5,977.6 L1336.8,982.3 L1339.1,986.8 L1341.3,991.1 L1343.6,995.2 L1345.9,999.3 L1348.1,1003.1 L1350.4,1006.9 L1352.7,1010.5 L1354.9,1014.0 L1357.2,1017.3 L1359.5,1020.6 L1361.7,1023.7 L1364.0,1026.8 L1366.3,1029.7 L1368.5,1032.6 L1370.8,1035.4 L1373.1,1038.1 L1375.3,1040.7 L1377.6,1043.2 L1379.9,1045.7 L1382.1,1048.0 L1384.4,1050.4 L1386.7,1052.6 L1388.9,1054.8 L1391.2,1056.9 L1393.5,1059.0 L1395.7,1061.0 L1398.0,1063.0 L1400.3,1064.9 L1402.5,1066.8 L1404.8,1068.6 L1407.1,1070.3 L1409.3,1072.1 L1411.6,1073.8 L1413.9,1075.4 L1416.1,1077.0 L1418.4,1078.6 L1420.7,1080.1 L1422.9,1081.6 L1425.2,1083.0 L1427.5,1084.5 L1429.7,1085.8 L1432.0,1087.2 L1434.3,1088.5 L1436.5,1089.8 L1438.8,1091.1 L1441.1,1092.4 L1443.3,1093.6 L1445.6,1094.8 L1447.9,1095.9 L1450.1,1097.1 L1452.4,1098.2 L1454.7,1099.3 L1456.9,1100.4 L1459.2,1101.4 L1461.5,1102.4 L1463.7,1103.5 L1466.0,1104.4 L1468.3,1105.4 L1470.5,1106.4 L1472.8,1107.3 L1475.1,1108.2 L1477.3,1109.1 L1479.6,1110.0 L1481.9,1110.9 L1484.1,1111.7 L1486.4,1112.6 L1488.7,1113.4 L1490.9,1114.2 L1493.2,1115.0 L1495.5,1115.8 L1497.7,1116.5 L1500.0,1117.3 L1502.3,1118.0 L1504.5,1118.7 L1506.8,1119.4 L1509.1,1120.1 L1511.3,1120.8 L1513.6,1121.5 L1515.9,1122.2 L1518.1,1122.8 L1520.4,1123.5 L1522.7,1124.1 L1524.9,1124.7 L1527.2,1125.4 L1529.5,1126.0 L1531.7,1126.6 L1534.0,1127.1 L1536.3,1127.7 L1538.5,1128.3 L1540.8,1128.8 L1543.1,1129.4 L1545.3,1129.9 L1547.6,1130.5 L1549.9,1131.0 L1552.1,1131.5 L1554.4,1132.0 L1556.7,1132.5 L1558.9,1133.0 L1561.2,1133.5 L1563.5,1134.0 L1565.7,1134.5 L1568.0,1134.9 L1570.3,1135.4 L1572.5,1135.8 L1574.8,1136.3 L1577.1,1136.7 L1579.3,1137.2 L1581.6,1137.6 L1583.9,1138.0 L1586.1,1138.4 L1588.4,1138.9 L1590.7,1139.3 L1592.9,1139.7 L1595.2,1140.1 L1597.5,1140.4 L1599.7,1140.8 L1602.0,1141.2 L1604.3,1141.6 L1606.5,1142.0 L1608.8,1142.3 L1611.1,1142.7 L1611.6,1142.8" stroke="#e810e0" stroke-width="4.8"/>
</g>
<text transform="translate(304.50,1158.60) scale(1.0000,1.0350)" font-size="68.00" text-anchor="end">0.0</text>
<text transform="translate(304.50,983.06) scale(1.0000,1.0350)" font-size="68.00" text-anchor="end">0.2</text>
<text transform="translate(304.50,807.52) scale(1.0000,1.0350)" font-size="68.00" text-anchor="end">0.4</text>
<text transform="translate(304.50,631.98) scale(1.0000,1.0350)" font-size="68.00" text-anchor="end">0.6</text>
<text transform="translate(304.50,456.44) scale(1.0000,1.0350)" font-size="68.00" text-anchor="end">0.8</text>
<text transform="translate(304.50,280.90) scale(1.0000,1.0350)" font-size="68.00" text-anchor="end">1.0</text>
<text transform="translate(304.50,105.36) scale(1.0000,1.0350)" font-size="68.00" text-anchor="end">1.2</text>
<text transform="translate(329.20,1258.60) scale(1.0000,1.0350)" font-size="68.00" text-anchor="middle">800</text>
<text transform="translate(555.87,1258.60) scale(1.0000,1.0350)" font-size="68.00" text-anchor="middle">1000</text>
<text transform="translate(782.53,1258.60) scale(1.0000,1.0350)" font-size="68.00" text-anchor="middle">1200</text>
<text transform="translate(1009.20,1258.60) scale(1.0000,1.0350)" font-size="68.00" text-anchor="middle">1400</text>
<text transform="translate(1235.86,1258.60) scale(1.0000,1.0350)" font-size="68.00" text-anchor="middle">1600</text>
<text transform="translate(1462.53,1258.60) scale(1.0000,1.0350)" font-size="68.00" text-anchor="middle">1800</text>
<text transform="translate(1689.20,1258.60) scale(1.0000,1.0350)" font-size="68.00" text-anchor="middle">2000</text>
<text transform="translate(629.00,1379.30) scale(1.0000,1.0100)" font-size="95.00" text-anchor="start" textLength="677.0" lengthAdjust="spacing">Raman shift (cm</text>
<text transform="translate(1306.00,1334.60) scale(1.0000,1.0300)" font-size="57.50" text-anchor="start">-1</text>
<text transform="translate(1362.00,1379.30) scale(0.8800,1.0000)" font-size="93.00" text-anchor="start">)</text>
<text transform="translate(141.30,1121.00) rotate(-90) scale(1,1.0000)" font-size="93.50" textLength="1083.0" lengthAdjust="spacing">signal intensity (arb. units)</text>
<rect x="347.5" y="123.2" width="527.5" height="370.2" fill="#fff" stroke="#8a8a8a" stroke-width="2"/>
<line x1="347.5" y1="493.4" x2="875.0" y2="493.4" stroke="#000" stroke-width="2.6"/>
<line x1="352.5" y1="158.6" x2="465.5" y2="158.6" stroke="#000" stroke-width="2.2"/>
<text x="477.6" y="174.6" font-size="48.6">experimental data</text>
<line x1="352.5" y1="219.2" x2="465.5" y2="219.2" stroke="#000" stroke-width="4.6"/>
<text x="477.6" y="235.2" font-size="48.6">D4</text>
<line x1="352.5" y1="279.4" x2="465.5" y2="279.4" stroke="#8e2e36" stroke-width="4.6"/>
<text x="477.6" y="295.4" font-size="48.6">D1</text>
<line x1="352.5" y1="339.6" x2="465.5" y2="339.6" stroke="#17175e" stroke-width="4.6"/>
<text x="477.6" y="355.6" font-size="48.6">D3</text>
<line x1="352.5" y1="399.6" x2="465.5" y2="399.6" stroke="#2f6b66" stroke-width="4.6"/>
<text x="477.6" y="415.6" font-size="48.6">G</text>
<line x1="352.5" y1="459.4" x2="465.5" y2="459.4" stroke="#a243a6" stroke-width="4.6"/>
<text x="477.6" y="475.4" font-size="48.6">cumulative fit</text>
</svg>
</body></html>
